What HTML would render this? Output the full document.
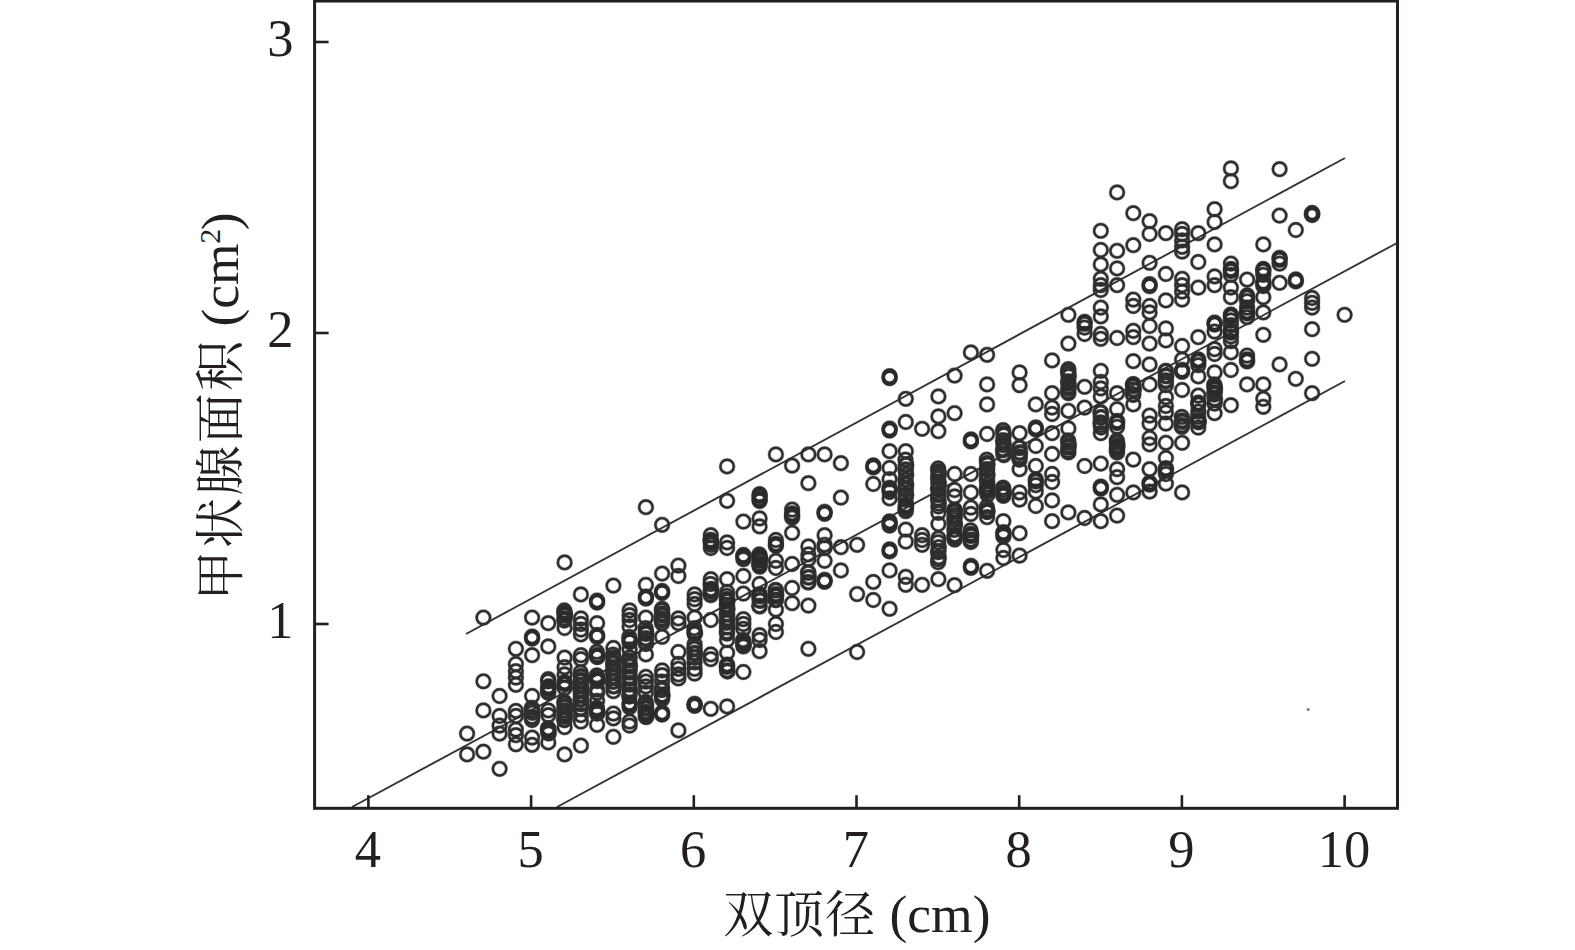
<!DOCTYPE html>
<html lang="zh-CN">
<head>
<meta charset="utf-8">
<title>甲状腺面积 vs 双顶径</title>
<style>
html,body{margin:0;padding:0;background:#fff;}
body{width:1575px;height:950px;overflow:hidden;}
svg{display:block;}
text{font-family:"Liberation Serif","Noto Serif CJK SC",serif;fill:#231f20;}
.num{font-size:52.5px;}
.zh{font-size:50px;}
.la{font-size:53.5px;}
</style>
</head>
<body>
<svg width="1575" height="950" viewBox="0 0 1575 950">
<rect x="0" y="0" width="1575" height="950" fill="#fff"/>
<g fill="none" stroke="#333" stroke-width="1.9" id="reg">
<line x1="466" y1="634" x2="1345" y2="158"/>
<line x1="352" y1="807" x2="1397" y2="243"/>
<line x1="557" y1="807" x2="1345" y2="381"/>
</g>
<g fill="none" stroke="#2c2c2c" stroke-width="3.6" stroke-opacity="0.35" id="halo">
<circle cx="467.1" cy="733.6" r="6.7"/><circle cx="467.1" cy="754.4" r="6.7"/><circle cx="483.4" cy="681.3" r="6.7"/><circle cx="483.4" cy="710.4" r="6.7"/><circle cx="483.4" cy="751.7" r="6.7"/><circle cx="499.6" cy="696.0" r="6.7"/><circle cx="499.6" cy="716.0" r="6.7"/><circle cx="499.6" cy="725.6" r="6.7"/><circle cx="499.6" cy="733.6" r="6.7"/><circle cx="499.6" cy="768.8" r="6.7"/><circle cx="515.9" cy="648.8" r="6.7"/><circle cx="515.9" cy="664.0" r="6.7"/><circle cx="515.9" cy="671.2" r="6.7"/><circle cx="515.9" cy="677.6" r="6.7"/><circle cx="515.9" cy="684.8" r="6.7"/><circle cx="515.9" cy="710.9" r="6.7"/><circle cx="515.9" cy="716.0" r="6.7"/><circle cx="515.9" cy="729.6" r="6.7"/><circle cx="515.9" cy="735.2" r="6.7"/><circle cx="515.9" cy="744.3" r="6.7"/><circle cx="532.1" cy="655.2" r="6.7"/><circle cx="532.1" cy="696.0" r="6.7"/><circle cx="532.1" cy="710.4" r="6.7"/><circle cx="532.1" cy="716.8" r="6.7"/><circle cx="532.1" cy="720.0" r="6.7"/><circle cx="532.1" cy="737.6" r="6.7"/><circle cx="532.1" cy="744.8" r="6.7"/><circle cx="548.3" cy="646.4" r="6.7"/><circle cx="548.3" cy="679.2" r="6.7"/><circle cx="548.3" cy="687.0" r="6.7"/><circle cx="548.3" cy="689.0" r="6.7"/><circle cx="548.3" cy="692.8" r="6.7"/><circle cx="548.3" cy="710.4" r="6.7"/><circle cx="548.3" cy="715.2" r="6.7"/><circle cx="548.3" cy="728.6" r="6.7"/><circle cx="548.3" cy="730.6" r="6.7"/><circle cx="548.3" cy="732.8" r="6.7"/><circle cx="548.3" cy="742.4" r="6.7"/><circle cx="564.6" cy="657.6" r="6.7"/><circle cx="564.6" cy="667.2" r="6.7"/><circle cx="564.6" cy="674.4" r="6.7"/><circle cx="564.6" cy="682.2" r="6.7"/><circle cx="564.6" cy="684.2" r="6.7"/><circle cx="564.6" cy="688.0" r="6.7"/><circle cx="564.6" cy="704.0" r="6.7"/><circle cx="564.6" cy="707.2" r="6.7"/><circle cx="564.6" cy="710.4" r="6.7"/><circle cx="564.6" cy="713.6" r="6.7"/><circle cx="564.6" cy="716.8" r="6.7"/><circle cx="564.6" cy="720.0" r="6.7"/><circle cx="564.6" cy="727.2" r="6.7"/><circle cx="564.6" cy="754.4" r="6.7"/><circle cx="580.9" cy="655.2" r="6.7"/><circle cx="580.9" cy="659.2" r="6.7"/><circle cx="580.9" cy="676.0" r="6.7"/><circle cx="580.9" cy="680.0" r="6.7"/><circle cx="580.9" cy="684.8" r="6.7"/><circle cx="580.9" cy="689.6" r="6.7"/><circle cx="580.9" cy="694.4" r="6.7"/><circle cx="580.9" cy="699.2" r="6.7"/><circle cx="580.9" cy="704.0" r="6.7"/><circle cx="580.9" cy="708.8" r="6.7"/><circle cx="580.9" cy="715.2" r="6.7"/><circle cx="580.9" cy="721.6" r="6.7"/><circle cx="580.9" cy="745.6" r="6.7"/><circle cx="597.1" cy="655.0" r="6.7"/><circle cx="597.1" cy="657.0" r="6.7"/><circle cx="597.1" cy="676.8" r="6.7"/><circle cx="597.1" cy="679.0" r="6.7"/><circle cx="597.1" cy="681.0" r="6.7"/><circle cx="597.1" cy="689.6" r="6.7"/><circle cx="597.1" cy="692.8" r="6.7"/><circle cx="597.1" cy="700.8" r="6.7"/><circle cx="597.1" cy="709.4" r="6.7"/><circle cx="597.1" cy="711.4" r="6.7"/><circle cx="597.1" cy="713.6" r="6.7"/><circle cx="597.1" cy="724.8" r="6.7"/><circle cx="613.4" cy="648.0" r="6.7"/><circle cx="613.4" cy="657.6" r="6.7"/><circle cx="613.4" cy="662.4" r="6.7"/><circle cx="613.4" cy="667.2" r="6.7"/><circle cx="613.4" cy="672.0" r="6.7"/><circle cx="613.4" cy="676.8" r="6.7"/><circle cx="613.4" cy="681.6" r="6.7"/><circle cx="613.4" cy="686.4" r="6.7"/><circle cx="613.4" cy="691.2" r="6.7"/><circle cx="613.4" cy="713.6" r="6.7"/><circle cx="613.4" cy="718.4" r="6.7"/><circle cx="613.4" cy="736.8" r="6.7"/><circle cx="629.6" cy="649.6" r="6.7"/><circle cx="629.6" cy="657.6" r="6.7"/><circle cx="629.6" cy="664.0" r="6.7"/><circle cx="629.6" cy="670.4" r="6.7"/><circle cx="629.6" cy="676.8" r="6.7"/><circle cx="629.6" cy="683.2" r="6.7"/><circle cx="629.6" cy="689.6" r="6.7"/><circle cx="629.6" cy="694.4" r="6.7"/><circle cx="629.6" cy="703.0" r="6.7"/><circle cx="629.6" cy="705.0" r="6.7"/><circle cx="629.6" cy="707.2" r="6.7"/><circle cx="629.6" cy="721.6" r="6.7"/><circle cx="629.6" cy="725.6" r="6.7"/><circle cx="645.9" cy="654.4" r="6.7"/><circle cx="645.9" cy="676.8" r="6.7"/><circle cx="645.9" cy="681.6" r="6.7"/><circle cx="645.9" cy="686.4" r="6.7"/><circle cx="645.9" cy="692.8" r="6.7"/><circle cx="645.9" cy="704.0" r="6.7"/><circle cx="645.9" cy="708.8" r="6.7"/><circle cx="645.9" cy="712.6" r="6.7"/><circle cx="645.9" cy="714.6" r="6.7"/><circle cx="645.9" cy="716.8" r="6.7"/><circle cx="662.1" cy="670.4" r="6.7"/><circle cx="662.1" cy="675.2" r="6.7"/><circle cx="662.1" cy="681.6" r="6.7"/><circle cx="662.1" cy="688.0" r="6.7"/><circle cx="662.1" cy="695.0" r="6.7"/><circle cx="662.1" cy="697.0" r="6.7"/><circle cx="662.1" cy="699.2" r="6.7"/><circle cx="662.1" cy="712.6" r="6.7"/><circle cx="662.1" cy="714.6" r="6.7"/><circle cx="678.4" cy="652.0" r="6.7"/><circle cx="678.4" cy="664.0" r="6.7"/><circle cx="678.4" cy="668.8" r="6.7"/><circle cx="678.4" cy="674.4" r="6.7"/><circle cx="678.4" cy="678.4" r="6.7"/><circle cx="678.4" cy="730.4" r="6.7"/><circle cx="694.6" cy="648.0" r="6.7"/><circle cx="694.6" cy="652.8" r="6.7"/><circle cx="694.6" cy="657.6" r="6.7"/><circle cx="694.6" cy="662.4" r="6.7"/><circle cx="694.6" cy="668.8" r="6.7"/><circle cx="694.6" cy="673.6" r="6.7"/><circle cx="694.6" cy="703.8" r="6.7"/><circle cx="694.6" cy="704.8" r="6.7"/><circle cx="694.6" cy="705.8" r="6.7"/><circle cx="483.4" cy="617.6" r="6.7"/><circle cx="532.1" cy="617.6" r="6.7"/><circle cx="532.1" cy="636.6" r="6.7"/><circle cx="532.1" cy="638.6" r="6.7"/><circle cx="548.3" cy="623.2" r="6.7"/><circle cx="564.6" cy="562.4" r="6.7"/><circle cx="564.6" cy="612.6" r="6.7"/><circle cx="564.6" cy="614.6" r="6.7"/><circle cx="564.6" cy="618.4" r="6.7"/><circle cx="564.6" cy="628.0" r="6.7"/><circle cx="580.9" cy="594.4" r="6.7"/><circle cx="580.9" cy="618.4" r="6.7"/><circle cx="580.9" cy="624.0" r="6.7"/><circle cx="580.9" cy="629.6" r="6.7"/><circle cx="580.9" cy="634.4" r="6.7"/><circle cx="597.1" cy="600.6" r="6.7"/><circle cx="597.1" cy="602.6" r="6.7"/><circle cx="597.1" cy="623.2" r="6.7"/><circle cx="597.1" cy="635.0" r="6.7"/><circle cx="597.1" cy="637.0" r="6.7"/><circle cx="613.4" cy="585.6" r="6.7"/><circle cx="629.6" cy="610.4" r="6.7"/><circle cx="629.6" cy="615.2" r="6.7"/><circle cx="629.6" cy="620.0" r="6.7"/><circle cx="629.6" cy="626.4" r="6.7"/><circle cx="629.6" cy="639.8" r="6.7"/><circle cx="629.6" cy="641.8" r="6.7"/><circle cx="645.9" cy="507.2" r="6.7"/><circle cx="645.9" cy="584.8" r="6.7"/><circle cx="645.9" cy="596.6" r="6.7"/><circle cx="645.9" cy="598.6" r="6.7"/><circle cx="645.9" cy="617.6" r="6.7"/><circle cx="645.9" cy="631.8" r="6.7"/><circle cx="645.9" cy="633.8" r="6.7"/><circle cx="645.9" cy="639.2" r="6.7"/><circle cx="645.9" cy="644.0" r="6.7"/><circle cx="662.1" cy="524.8" r="6.7"/><circle cx="662.1" cy="573.6" r="6.7"/><circle cx="662.1" cy="591.0" r="6.7"/><circle cx="662.1" cy="593.0" r="6.7"/><circle cx="662.1" cy="608.8" r="6.7"/><circle cx="662.1" cy="613.6" r="6.7"/><circle cx="662.1" cy="618.4" r="6.7"/><circle cx="662.1" cy="623.2" r="6.7"/><circle cx="662.1" cy="636.8" r="6.7"/><circle cx="678.4" cy="565.6" r="6.7"/><circle cx="678.4" cy="576.0" r="6.7"/><circle cx="678.4" cy="618.4" r="6.7"/><circle cx="678.4" cy="623.2" r="6.7"/><circle cx="694.6" cy="594.4" r="6.7"/><circle cx="694.6" cy="599.2" r="6.7"/><circle cx="694.6" cy="604.0" r="6.7"/><circle cx="694.6" cy="617.6" r="6.7"/><circle cx="694.6" cy="631.8" r="6.7"/><circle cx="694.6" cy="633.8" r="6.7"/><circle cx="694.6" cy="644.0" r="6.7"/><circle cx="710.8" cy="579.2" r="6.7"/><circle cx="710.8" cy="589.4" r="6.7"/><circle cx="710.8" cy="591.4" r="6.7"/><circle cx="710.8" cy="595.2" r="6.7"/><circle cx="710.8" cy="620.0" r="6.7"/><circle cx="710.8" cy="654.4" r="6.7"/><circle cx="710.8" cy="659.2" r="6.7"/><circle cx="710.8" cy="708.8" r="6.7"/><circle cx="727.1" cy="579.2" r="6.7"/><circle cx="727.1" cy="592.0" r="6.7"/><circle cx="727.1" cy="599.0" r="6.7"/><circle cx="727.1" cy="601.0" r="6.7"/><circle cx="727.1" cy="608.0" r="6.7"/><circle cx="727.1" cy="614.4" r="6.7"/><circle cx="727.1" cy="620.8" r="6.7"/><circle cx="727.1" cy="627.2" r="6.7"/><circle cx="727.1" cy="633.6" r="6.7"/><circle cx="727.1" cy="640.0" r="6.7"/><circle cx="727.1" cy="652.8" r="6.7"/><circle cx="727.1" cy="664.6" r="6.7"/><circle cx="727.1" cy="666.6" r="6.7"/><circle cx="727.1" cy="670.4" r="6.7"/><circle cx="727.1" cy="706.4" r="6.7"/><circle cx="743.4" cy="576.0" r="6.7"/><circle cx="743.4" cy="593.6" r="6.7"/><circle cx="743.4" cy="619.2" r="6.7"/><circle cx="743.4" cy="624.0" r="6.7"/><circle cx="743.4" cy="628.8" r="6.7"/><circle cx="743.4" cy="642.2" r="6.7"/><circle cx="743.4" cy="644.2" r="6.7"/><circle cx="743.4" cy="646.4" r="6.7"/><circle cx="743.4" cy="672.0" r="6.7"/><circle cx="759.6" cy="584.0" r="6.7"/><circle cx="759.6" cy="594.2" r="6.7"/><circle cx="759.6" cy="596.2" r="6.7"/><circle cx="759.6" cy="600.0" r="6.7"/><circle cx="759.6" cy="606.4" r="6.7"/><circle cx="759.6" cy="635.2" r="6.7"/><circle cx="759.6" cy="640.0" r="6.7"/><circle cx="759.6" cy="651.2" r="6.7"/><circle cx="775.9" cy="568.0" r="6.7"/><circle cx="775.9" cy="590.4" r="6.7"/><circle cx="775.9" cy="594.2" r="6.7"/><circle cx="775.9" cy="596.2" r="6.7"/><circle cx="775.9" cy="600.0" r="6.7"/><circle cx="775.9" cy="609.6" r="6.7"/><circle cx="775.9" cy="624.0" r="6.7"/><circle cx="775.9" cy="632.0" r="6.7"/><circle cx="792.1" cy="588.0" r="6.7"/><circle cx="792.1" cy="603.2" r="6.7"/><circle cx="808.4" cy="572.8" r="6.7"/><circle cx="808.4" cy="577.6" r="6.7"/><circle cx="808.4" cy="582.4" r="6.7"/><circle cx="808.4" cy="605.6" r="6.7"/><circle cx="808.4" cy="648.8" r="6.7"/><circle cx="824.6" cy="579.8" r="6.7"/><circle cx="824.6" cy="581.8" r="6.7"/><circle cx="840.9" cy="570.4" r="6.7"/><circle cx="857.1" cy="594.1" r="6.7"/><circle cx="857.1" cy="652.0" r="6.7"/><circle cx="873.3" cy="581.9" r="6.7"/><circle cx="873.3" cy="600.0" r="6.7"/><circle cx="889.6" cy="570.4" r="6.7"/><circle cx="889.6" cy="608.8" r="6.7"/><circle cx="905.8" cy="576.8" r="6.7"/><circle cx="905.8" cy="584.8" r="6.7"/><circle cx="922.1" cy="584.8" r="6.7"/><circle cx="938.4" cy="579.2" r="6.7"/><circle cx="710.8" cy="535.2" r="6.7"/><circle cx="710.8" cy="540.6" r="6.7"/><circle cx="710.8" cy="542.6" r="6.7"/><circle cx="710.8" cy="548.0" r="6.7"/><circle cx="727.1" cy="466.4" r="6.7"/><circle cx="727.1" cy="500.8" r="6.7"/><circle cx="727.1" cy="542.4" r="6.7"/><circle cx="727.1" cy="548.0" r="6.7"/><circle cx="743.4" cy="521.6" r="6.7"/><circle cx="743.4" cy="555.0" r="6.7"/><circle cx="743.4" cy="557.0" r="6.7"/><circle cx="743.4" cy="559.2" r="6.7"/><circle cx="759.6" cy="494.2" r="6.7"/><circle cx="759.6" cy="496.2" r="6.7"/><circle cx="759.6" cy="499.0" r="6.7"/><circle cx="759.6" cy="501.0" r="6.7"/><circle cx="759.6" cy="518.4" r="6.7"/><circle cx="759.6" cy="526.4" r="6.7"/><circle cx="759.6" cy="555.8" r="6.7"/><circle cx="759.6" cy="557.8" r="6.7"/><circle cx="759.6" cy="560.8" r="6.7"/><circle cx="759.6" cy="564.6" r="6.7"/><circle cx="759.6" cy="566.6" r="6.7"/><circle cx="775.9" cy="454.4" r="6.7"/><circle cx="775.9" cy="540.0" r="6.7"/><circle cx="775.9" cy="543.8" r="6.7"/><circle cx="775.9" cy="545.8" r="6.7"/><circle cx="775.9" cy="560.8" r="6.7"/><circle cx="792.1" cy="465.6" r="6.7"/><circle cx="792.1" cy="509.6" r="6.7"/><circle cx="792.1" cy="513.4" r="6.7"/><circle cx="792.1" cy="515.4" r="6.7"/><circle cx="792.1" cy="517.6" r="6.7"/><circle cx="792.1" cy="532.8" r="6.7"/><circle cx="792.1" cy="564.0" r="6.7"/><circle cx="808.4" cy="454.4" r="6.7"/><circle cx="808.4" cy="483.2" r="6.7"/><circle cx="808.4" cy="546.4" r="6.7"/><circle cx="808.4" cy="554.4" r="6.7"/><circle cx="808.4" cy="559.2" r="6.7"/><circle cx="824.6" cy="454.4" r="6.7"/><circle cx="824.6" cy="511.8" r="6.7"/><circle cx="824.6" cy="513.8" r="6.7"/><circle cx="824.6" cy="535.2" r="6.7"/><circle cx="824.6" cy="544.8" r="6.7"/><circle cx="824.6" cy="548.0" r="6.7"/><circle cx="824.6" cy="560.8" r="6.7"/><circle cx="840.9" cy="463.2" r="6.7"/><circle cx="840.9" cy="497.6" r="6.7"/><circle cx="840.9" cy="547.2" r="6.7"/><circle cx="857.1" cy="544.8" r="6.7"/><circle cx="873.3" cy="465.4" r="6.7"/><circle cx="873.3" cy="467.4" r="6.7"/><circle cx="873.3" cy="484.0" r="6.7"/><circle cx="889.6" cy="428.6" r="6.7"/><circle cx="889.6" cy="430.6" r="6.7"/><circle cx="889.6" cy="451.2" r="6.7"/><circle cx="889.6" cy="468.0" r="6.7"/><circle cx="889.6" cy="479.2" r="6.7"/><circle cx="889.6" cy="487.8" r="6.7"/><circle cx="889.6" cy="489.8" r="6.7"/><circle cx="889.6" cy="492.0" r="6.7"/><circle cx="889.6" cy="498.4" r="6.7"/><circle cx="889.6" cy="521.4" r="6.7"/><circle cx="889.6" cy="523.4" r="6.7"/><circle cx="889.6" cy="525.6" r="6.7"/><circle cx="889.6" cy="549.4" r="6.7"/><circle cx="889.6" cy="551.4" r="6.7"/><circle cx="905.8" cy="451.2" r="6.7"/><circle cx="905.8" cy="464.8" r="6.7"/><circle cx="905.8" cy="469.6" r="6.7"/><circle cx="905.8" cy="484.0" r="6.7"/><circle cx="905.8" cy="488.8" r="6.7"/><circle cx="905.8" cy="495.2" r="6.7"/><circle cx="905.8" cy="505.4" r="6.7"/><circle cx="905.8" cy="507.4" r="6.7"/><circle cx="905.8" cy="511.2" r="6.7"/><circle cx="905.8" cy="529.6" r="6.7"/><circle cx="905.8" cy="541.6" r="6.7"/><circle cx="922.1" cy="428.8" r="6.7"/><circle cx="922.1" cy="535.2" r="6.7"/><circle cx="922.1" cy="540.0" r="6.7"/><circle cx="922.1" cy="544.8" r="6.7"/><circle cx="938.4" cy="431.2" r="6.7"/><circle cx="938.4" cy="471.2" r="6.7"/><circle cx="938.4" cy="476.0" r="6.7"/><circle cx="938.4" cy="482.4" r="6.7"/><circle cx="938.4" cy="488.8" r="6.7"/><circle cx="938.4" cy="495.2" r="6.7"/><circle cx="938.4" cy="500.0" r="6.7"/><circle cx="938.4" cy="506.4" r="6.7"/><circle cx="938.4" cy="512.8" r="6.7"/><circle cx="938.4" cy="524.0" r="6.7"/><circle cx="938.4" cy="538.4" r="6.7"/><circle cx="938.4" cy="551.2" r="6.7"/><circle cx="938.4" cy="559.2" r="6.7"/><circle cx="889.6" cy="376.2" r="6.7"/><circle cx="889.6" cy="378.2" r="6.7"/><circle cx="905.8" cy="398.8" r="6.7"/><circle cx="905.8" cy="422.0" r="6.7"/><circle cx="938.4" cy="396.4" r="6.7"/><circle cx="938.4" cy="416.4" r="6.7"/><circle cx="954.6" cy="474.0" r="6.7"/><circle cx="954.6" cy="490.0" r="6.7"/><circle cx="954.6" cy="496.4" r="6.7"/><circle cx="954.6" cy="509.8" r="6.7"/><circle cx="954.6" cy="511.8" r="6.7"/><circle cx="954.6" cy="517.2" r="6.7"/><circle cx="954.6" cy="523.6" r="6.7"/><circle cx="954.6" cy="535.4" r="6.7"/><circle cx="954.6" cy="537.4" r="6.7"/><circle cx="954.6" cy="539.6" r="6.7"/><circle cx="954.6" cy="585.2" r="6.7"/><circle cx="970.9" cy="474.0" r="6.7"/><circle cx="970.9" cy="492.4" r="6.7"/><circle cx="970.9" cy="507.6" r="6.7"/><circle cx="970.9" cy="514.0" r="6.7"/><circle cx="970.9" cy="533.8" r="6.7"/><circle cx="970.9" cy="535.8" r="6.7"/><circle cx="970.9" cy="539.6" r="6.7"/><circle cx="970.9" cy="542.0" r="6.7"/><circle cx="970.9" cy="565.8" r="6.7"/><circle cx="970.9" cy="567.8" r="6.7"/><circle cx="987.1" cy="462.8" r="6.7"/><circle cx="987.1" cy="469.2" r="6.7"/><circle cx="987.1" cy="475.6" r="6.7"/><circle cx="987.1" cy="480.4" r="6.7"/><circle cx="987.1" cy="487.4" r="6.7"/><circle cx="987.1" cy="489.4" r="6.7"/><circle cx="987.1" cy="491.6" r="6.7"/><circle cx="987.1" cy="509.8" r="6.7"/><circle cx="987.1" cy="511.8" r="6.7"/><circle cx="987.1" cy="517.2" r="6.7"/><circle cx="987.1" cy="570.8" r="6.7"/><circle cx="1003.4" cy="490.0" r="6.7"/><circle cx="1003.4" cy="493.8" r="6.7"/><circle cx="1003.4" cy="495.8" r="6.7"/><circle cx="1003.4" cy="521.2" r="6.7"/><circle cx="1003.4" cy="532.2" r="6.7"/><circle cx="1003.4" cy="534.2" r="6.7"/><circle cx="1003.4" cy="536.4" r="6.7"/><circle cx="1003.4" cy="550.0" r="6.7"/><circle cx="1003.4" cy="558.0" r="6.7"/><circle cx="1019.6" cy="456.4" r="6.7"/><circle cx="1019.6" cy="459.6" r="6.7"/><circle cx="1019.6" cy="469.2" r="6.7"/><circle cx="1019.6" cy="492.4" r="6.7"/><circle cx="1019.6" cy="499.6" r="6.7"/><circle cx="1019.6" cy="533.2" r="6.7"/><circle cx="1019.6" cy="555.6" r="6.7"/><circle cx="1035.8" cy="466.0" r="6.7"/><circle cx="1035.8" cy="479.4" r="6.7"/><circle cx="1035.8" cy="481.4" r="6.7"/><circle cx="1035.8" cy="485.2" r="6.7"/><circle cx="1035.8" cy="491.6" r="6.7"/><circle cx="1035.8" cy="506.0" r="6.7"/><circle cx="1052.1" cy="474.0" r="6.7"/><circle cx="1052.1" cy="482.0" r="6.7"/><circle cx="1052.1" cy="500.4" r="6.7"/><circle cx="1052.1" cy="521.2" r="6.7"/><circle cx="1068.4" cy="512.4" r="6.7"/><circle cx="1084.6" cy="466.0" r="6.7"/><circle cx="1084.6" cy="518.0" r="6.7"/><circle cx="1100.8" cy="463.6" r="6.7"/><circle cx="1100.8" cy="486.6" r="6.7"/><circle cx="1100.8" cy="488.6" r="6.7"/><circle cx="1100.8" cy="504.4" r="6.7"/><circle cx="1100.8" cy="521.2" r="6.7"/><circle cx="1117.1" cy="469.2" r="6.7"/><circle cx="1117.1" cy="477.2" r="6.7"/><circle cx="1117.1" cy="494.8" r="6.7"/><circle cx="1117.1" cy="515.6" r="6.7"/><circle cx="1133.3" cy="459.6" r="6.7"/><circle cx="1133.3" cy="492.4" r="6.7"/><circle cx="1149.6" cy="469.2" r="6.7"/><circle cx="1149.6" cy="482.6" r="6.7"/><circle cx="1149.6" cy="484.6" r="6.7"/><circle cx="1149.6" cy="491.6" r="6.7"/><circle cx="1165.9" cy="458.0" r="6.7"/><circle cx="1165.9" cy="468.2" r="6.7"/><circle cx="1165.9" cy="470.2" r="6.7"/><circle cx="1165.9" cy="474.0" r="6.7"/><circle cx="1165.9" cy="483.6" r="6.7"/><circle cx="1182.1" cy="492.4" r="6.7"/><circle cx="954.6" cy="375.6" r="6.7"/><circle cx="954.6" cy="413.2" r="6.7"/><circle cx="970.9" cy="352.4" r="6.7"/><circle cx="970.9" cy="439.4" r="6.7"/><circle cx="970.9" cy="441.4" r="6.7"/><circle cx="987.1" cy="354.8" r="6.7"/><circle cx="987.1" cy="384.4" r="6.7"/><circle cx="987.1" cy="404.4" r="6.7"/><circle cx="987.1" cy="434.0" r="6.7"/><circle cx="1003.4" cy="433.2" r="6.7"/><circle cx="1003.4" cy="442.8" r="6.7"/><circle cx="1003.4" cy="449.2" r="6.7"/><circle cx="1003.4" cy="454.0" r="6.7"/><circle cx="1019.6" cy="372.4" r="6.7"/><circle cx="1019.6" cy="385.2" r="6.7"/><circle cx="1019.6" cy="433.2" r="6.7"/><circle cx="1019.6" cy="447.6" r="6.7"/><circle cx="1019.6" cy="452.4" r="6.7"/><circle cx="1035.8" cy="404.4" r="6.7"/><circle cx="1035.8" cy="427.4" r="6.7"/><circle cx="1035.8" cy="429.4" r="6.7"/><circle cx="1035.8" cy="446.0" r="6.7"/><circle cx="1052.1" cy="360.4" r="6.7"/><circle cx="1052.1" cy="393.2" r="6.7"/><circle cx="1052.1" cy="407.6" r="6.7"/><circle cx="1052.1" cy="414.0" r="6.7"/><circle cx="1052.1" cy="433.2" r="6.7"/><circle cx="1052.1" cy="454.0" r="6.7"/><circle cx="1068.4" cy="343.6" r="6.7"/><circle cx="1068.4" cy="369.2" r="6.7"/><circle cx="1068.4" cy="374.0" r="6.7"/><circle cx="1068.4" cy="383.6" r="6.7"/><circle cx="1068.4" cy="388.4" r="6.7"/><circle cx="1068.4" cy="393.2" r="6.7"/><circle cx="1068.4" cy="410.8" r="6.7"/><circle cx="1068.4" cy="428.4" r="6.7"/><circle cx="1068.4" cy="442.8" r="6.7"/><circle cx="1068.4" cy="447.6" r="6.7"/><circle cx="1068.4" cy="452.4" r="6.7"/><circle cx="1084.6" cy="321.8" r="6.7"/><circle cx="1084.6" cy="323.8" r="6.7"/><circle cx="1084.6" cy="327.6" r="6.7"/><circle cx="1084.6" cy="334.0" r="6.7"/><circle cx="1084.6" cy="386.8" r="6.7"/><circle cx="1084.6" cy="407.6" r="6.7"/><circle cx="1100.8" cy="316.4" r="6.7"/><circle cx="1100.8" cy="334.0" r="6.7"/><circle cx="1100.8" cy="338.8" r="6.7"/><circle cx="1100.8" cy="370.8" r="6.7"/><circle cx="1100.8" cy="382.0" r="6.7"/><circle cx="1100.8" cy="388.4" r="6.7"/><circle cx="1100.8" cy="396.4" r="6.7"/><circle cx="1100.8" cy="412.4" r="6.7"/><circle cx="1100.8" cy="417.2" r="6.7"/><circle cx="1100.8" cy="425.2" r="6.7"/><circle cx="1100.8" cy="433.2" r="6.7"/><circle cx="1117.1" cy="338.0" r="6.7"/><circle cx="1117.1" cy="393.2" r="6.7"/><circle cx="1117.1" cy="409.2" r="6.7"/><circle cx="1117.1" cy="421.0" r="6.7"/><circle cx="1117.1" cy="423.0" r="6.7"/><circle cx="1117.1" cy="426.8" r="6.7"/><circle cx="1117.1" cy="442.8" r="6.7"/><circle cx="1117.1" cy="446.6" r="6.7"/><circle cx="1117.1" cy="448.6" r="6.7"/><circle cx="1117.1" cy="452.4" r="6.7"/><circle cx="1133.3" cy="330.8" r="6.7"/><circle cx="1133.3" cy="337.2" r="6.7"/><circle cx="1133.3" cy="361.2" r="6.7"/><circle cx="1133.3" cy="384.2" r="6.7"/><circle cx="1133.3" cy="386.2" r="6.7"/><circle cx="1133.3" cy="390.0" r="6.7"/><circle cx="1133.3" cy="394.8" r="6.7"/><circle cx="1133.3" cy="404.4" r="6.7"/><circle cx="1149.6" cy="326.0" r="6.7"/><circle cx="1149.6" cy="343.6" r="6.7"/><circle cx="1149.6" cy="364.4" r="6.7"/><circle cx="1149.6" cy="384.4" r="6.7"/><circle cx="1149.6" cy="415.6" r="6.7"/><circle cx="1149.6" cy="423.6" r="6.7"/><circle cx="1149.6" cy="438.0" r="6.7"/><circle cx="1149.6" cy="444.4" r="6.7"/><circle cx="1165.9" cy="328.4" r="6.7"/><circle cx="1165.9" cy="340.4" r="6.7"/><circle cx="1165.9" cy="370.8" r="6.7"/><circle cx="1165.9" cy="375.6" r="6.7"/><circle cx="1165.9" cy="380.4" r="6.7"/><circle cx="1165.9" cy="385.2" r="6.7"/><circle cx="1165.9" cy="397.2" r="6.7"/><circle cx="1165.9" cy="406.0" r="6.7"/><circle cx="1165.9" cy="412.4" r="6.7"/><circle cx="1165.9" cy="423.6" r="6.7"/><circle cx="1165.9" cy="442.8" r="6.7"/><circle cx="1182.1" cy="346.0" r="6.7"/><circle cx="1182.1" cy="359.6" r="6.7"/><circle cx="1182.1" cy="369.8" r="6.7"/><circle cx="1182.1" cy="371.8" r="6.7"/><circle cx="1182.1" cy="390.0" r="6.7"/><circle cx="1182.1" cy="420.4" r="6.7"/><circle cx="1182.1" cy="425.2" r="6.7"/><circle cx="1182.1" cy="442.8" r="6.7"/><circle cx="1068.4" cy="314.8" r="6.7"/><circle cx="1100.8" cy="230.8" r="6.7"/><circle cx="1100.8" cy="250.0" r="6.7"/><circle cx="1100.8" cy="264.4" r="6.7"/><circle cx="1100.8" cy="278.8" r="6.7"/><circle cx="1100.8" cy="285.2" r="6.7"/><circle cx="1100.8" cy="290.0" r="6.7"/><circle cx="1100.8" cy="307.6" r="6.7"/><circle cx="1117.1" cy="192.4" r="6.7"/><circle cx="1117.1" cy="250.8" r="6.7"/><circle cx="1117.1" cy="268.4" r="6.7"/><circle cx="1117.1" cy="285.2" r="6.7"/><circle cx="1133.3" cy="213.2" r="6.7"/><circle cx="1133.3" cy="245.2" r="6.7"/><circle cx="1133.3" cy="299.6" r="6.7"/><circle cx="1133.3" cy="306.0" r="6.7"/><circle cx="1149.6" cy="221.2" r="6.7"/><circle cx="1149.6" cy="234.0" r="6.7"/><circle cx="1149.6" cy="262.8" r="6.7"/><circle cx="1149.6" cy="284.2" r="6.7"/><circle cx="1149.6" cy="286.2" r="6.7"/><circle cx="1149.6" cy="306.0" r="6.7"/><circle cx="1149.6" cy="312.4" r="6.7"/><circle cx="1165.9" cy="233.2" r="6.7"/><circle cx="1165.9" cy="274.0" r="6.7"/><circle cx="1165.9" cy="300.4" r="6.7"/><circle cx="1182.1" cy="229.2" r="6.7"/><circle cx="1182.1" cy="234.0" r="6.7"/><circle cx="1182.1" cy="240.4" r="6.7"/><circle cx="1182.1" cy="246.8" r="6.7"/><circle cx="1182.1" cy="251.6" r="6.7"/><circle cx="1182.1" cy="278.8" r="6.7"/><circle cx="1182.1" cy="285.2" r="6.7"/><circle cx="1182.1" cy="291.6" r="6.7"/><circle cx="1182.1" cy="299.6" r="6.7"/><circle cx="1198.3" cy="233.2" r="6.7"/><circle cx="1198.3" cy="262.0" r="6.7"/><circle cx="1198.3" cy="287.6" r="6.7"/><circle cx="1214.6" cy="209.2" r="6.7"/><circle cx="1214.6" cy="222.0" r="6.7"/><circle cx="1214.6" cy="244.4" r="6.7"/><circle cx="1214.6" cy="276.4" r="6.7"/><circle cx="1214.6" cy="285.2" r="6.7"/><circle cx="1230.9" cy="168.4" r="6.7"/><circle cx="1230.9" cy="181.2" r="6.7"/><circle cx="1230.9" cy="263.6" r="6.7"/><circle cx="1230.9" cy="269.0" r="6.7"/><circle cx="1230.9" cy="271.0" r="6.7"/><circle cx="1230.9" cy="274.8" r="6.7"/><circle cx="1230.9" cy="287.6" r="6.7"/><circle cx="1247.1" cy="279.6" r="6.7"/><circle cx="1263.3" cy="244.4" r="6.7"/><circle cx="1263.3" cy="269.0" r="6.7"/><circle cx="1263.3" cy="271.0" r="6.7"/><circle cx="1263.3" cy="274.8" r="6.7"/><circle cx="1263.3" cy="281.8" r="6.7"/><circle cx="1263.3" cy="283.8" r="6.7"/><circle cx="1263.3" cy="286.0" r="6.7"/><circle cx="1279.6" cy="169.2" r="6.7"/><circle cx="1279.6" cy="215.6" r="6.7"/><circle cx="1279.6" cy="257.8" r="6.7"/><circle cx="1279.6" cy="259.8" r="6.7"/><circle cx="1279.6" cy="263.6" r="6.7"/><circle cx="1279.6" cy="282.8" r="6.7"/><circle cx="1295.8" cy="230.0" r="6.7"/><circle cx="1295.8" cy="279.4" r="6.7"/><circle cx="1295.8" cy="281.4" r="6.7"/><circle cx="1312.1" cy="213.0" r="6.7"/><circle cx="1312.1" cy="214.0" r="6.7"/><circle cx="1312.1" cy="215.0" r="6.7"/><circle cx="1198.3" cy="337.2" r="6.7"/><circle cx="1198.3" cy="359.4" r="6.7"/><circle cx="1198.3" cy="361.4" r="6.7"/><circle cx="1198.3" cy="365.2" r="6.7"/><circle cx="1198.3" cy="376.4" r="6.7"/><circle cx="1198.3" cy="395.6" r="6.7"/><circle cx="1198.3" cy="402.6" r="6.7"/><circle cx="1198.3" cy="404.6" r="6.7"/><circle cx="1198.3" cy="411.6" r="6.7"/><circle cx="1198.3" cy="420.2" r="6.7"/><circle cx="1198.3" cy="422.2" r="6.7"/><circle cx="1198.3" cy="427.6" r="6.7"/><circle cx="1214.6" cy="322.6" r="6.7"/><circle cx="1214.6" cy="324.6" r="6.7"/><circle cx="1214.6" cy="331.6" r="6.7"/><circle cx="1214.6" cy="349.2" r="6.7"/><circle cx="1214.6" cy="354.0" r="6.7"/><circle cx="1214.6" cy="372.4" r="6.7"/><circle cx="1214.6" cy="386.6" r="6.7"/><circle cx="1214.6" cy="388.6" r="6.7"/><circle cx="1214.6" cy="392.4" r="6.7"/><circle cx="1214.6" cy="398.8" r="6.7"/><circle cx="1214.6" cy="403.6" r="6.7"/><circle cx="1214.6" cy="413.2" r="6.7"/><circle cx="1230.9" cy="297.2" r="6.7"/><circle cx="1230.9" cy="314.6" r="6.7"/><circle cx="1230.9" cy="316.6" r="6.7"/><circle cx="1230.9" cy="320.4" r="6.7"/><circle cx="1230.9" cy="325.2" r="6.7"/><circle cx="1230.9" cy="330.6" r="6.7"/><circle cx="1230.9" cy="332.6" r="6.7"/><circle cx="1230.9" cy="336.4" r="6.7"/><circle cx="1230.9" cy="341.2" r="6.7"/><circle cx="1230.9" cy="352.4" r="6.7"/><circle cx="1230.9" cy="370.0" r="6.7"/><circle cx="1230.9" cy="405.2" r="6.7"/><circle cx="1247.1" cy="295.4" r="6.7"/><circle cx="1247.1" cy="297.4" r="6.7"/><circle cx="1247.1" cy="301.2" r="6.7"/><circle cx="1247.1" cy="307.6" r="6.7"/><circle cx="1247.1" cy="311.4" r="6.7"/><circle cx="1247.1" cy="313.4" r="6.7"/><circle cx="1247.1" cy="317.2" r="6.7"/><circle cx="1247.1" cy="355.6" r="6.7"/><circle cx="1247.1" cy="359.4" r="6.7"/><circle cx="1247.1" cy="361.4" r="6.7"/><circle cx="1247.1" cy="384.4" r="6.7"/><circle cx="1263.3" cy="297.2" r="6.7"/><circle cx="1263.3" cy="312.4" r="6.7"/><circle cx="1263.3" cy="334.8" r="6.7"/><circle cx="1263.3" cy="384.4" r="6.7"/><circle cx="1263.3" cy="398.8" r="6.7"/><circle cx="1263.3" cy="406.8" r="6.7"/><circle cx="1279.6" cy="364.4" r="6.7"/><circle cx="1295.8" cy="378.8" r="6.7"/><circle cx="1312.1" cy="298.0" r="6.7"/><circle cx="1312.1" cy="302.8" r="6.7"/><circle cx="1312.1" cy="307.6" r="6.7"/><circle cx="1312.1" cy="329.2" r="6.7"/><circle cx="1312.1" cy="358.8" r="6.7"/><circle cx="1312.1" cy="393.2" r="6.7"/><circle cx="1344.6" cy="314.8" r="6.7"/><circle cx="531.8" cy="707.8" r="6.7"/><circle cx="532.5" cy="712.8" r="6.7"/><circle cx="531.8" cy="717.8" r="6.7"/><circle cx="548.0" cy="681.3" r="6.7"/><circle cx="548.7" cy="686.3" r="6.7"/><circle cx="548.0" cy="691.3" r="6.7"/><circle cx="548.0" cy="728.4" r="6.7"/><circle cx="548.7" cy="733.4" r="6.7"/><circle cx="564.3" cy="610.5" r="6.7"/><circle cx="565.0" cy="615.5" r="6.7"/><circle cx="564.3" cy="620.5" r="6.7"/><circle cx="564.3" cy="701.9" r="6.7"/><circle cx="565.0" cy="706.4" r="6.7"/><circle cx="564.3" cy="710.9" r="6.7"/><circle cx="565.0" cy="715.4" r="6.7"/><circle cx="564.3" cy="719.9" r="6.7"/><circle cx="580.6" cy="672.4" r="6.7"/><circle cx="581.2" cy="676.9" r="6.7"/><circle cx="580.6" cy="681.4" r="6.7"/><circle cx="581.2" cy="685.9" r="6.7"/><circle cx="580.6" cy="690.4" r="6.7"/><circle cx="581.2" cy="694.9" r="6.7"/><circle cx="580.6" cy="699.4" r="6.7"/><circle cx="581.2" cy="703.9" r="6.7"/><circle cx="580.6" cy="708.4" r="6.7"/><circle cx="596.8" cy="651.8" r="6.7"/><circle cx="597.5" cy="656.8" r="6.7"/><circle cx="596.8" cy="675.4" r="6.7"/><circle cx="597.5" cy="680.4" r="6.7"/><circle cx="596.8" cy="707.8" r="6.7"/><circle cx="597.5" cy="712.8" r="6.7"/><circle cx="613.1" cy="654.7" r="6.7"/><circle cx="613.8" cy="659.2" r="6.7"/><circle cx="613.1" cy="663.7" r="6.7"/><circle cx="613.8" cy="668.2" r="6.7"/><circle cx="613.1" cy="672.7" r="6.7"/><circle cx="613.8" cy="677.2" r="6.7"/><circle cx="613.1" cy="681.7" r="6.7"/><circle cx="613.8" cy="686.2" r="6.7"/><circle cx="629.3" cy="637.0" r="6.7"/><circle cx="630.0" cy="642.0" r="6.7"/><circle cx="629.3" cy="660.6" r="6.7"/><circle cx="630.0" cy="666.6" r="6.7"/><circle cx="629.3" cy="672.6" r="6.7"/><circle cx="630.0" cy="678.6" r="6.7"/><circle cx="629.3" cy="684.6" r="6.7"/><circle cx="630.0" cy="690.6" r="6.7"/><circle cx="629.3" cy="696.6" r="6.7"/><circle cx="645.6" cy="628.2" r="6.7"/><circle cx="646.2" cy="633.2" r="6.7"/><circle cx="645.6" cy="638.2" r="6.7"/><circle cx="646.2" cy="643.2" r="6.7"/><circle cx="645.6" cy="701.9" r="6.7"/><circle cx="646.2" cy="706.9" r="6.7"/><circle cx="645.6" cy="711.9" r="6.7"/><circle cx="646.2" cy="716.9" r="6.7"/><circle cx="661.8" cy="610.5" r="6.7"/><circle cx="662.5" cy="615.5" r="6.7"/><circle cx="661.8" cy="620.5" r="6.7"/><circle cx="661.8" cy="690.1" r="6.7"/><circle cx="662.5" cy="695.1" r="6.7"/><circle cx="694.3" cy="628.2" r="6.7"/><circle cx="695.0" cy="633.2" r="6.7"/><circle cx="694.3" cy="648.8" r="6.7"/><circle cx="695.0" cy="653.8" r="6.7"/><circle cx="710.5" cy="539.8" r="6.7"/><circle cx="711.2" cy="544.8" r="6.7"/><circle cx="710.5" cy="584.0" r="6.7"/><circle cx="711.2" cy="589.0" r="6.7"/><circle cx="710.5" cy="594.0" r="6.7"/><circle cx="726.8" cy="595.8" r="6.7"/><circle cx="727.5" cy="600.3" r="6.7"/><circle cx="726.8" cy="604.8" r="6.7"/><circle cx="727.5" cy="609.3" r="6.7"/><circle cx="726.8" cy="613.8" r="6.7"/><circle cx="727.5" cy="618.3" r="6.7"/><circle cx="726.8" cy="622.8" r="6.7"/><circle cx="727.5" cy="627.3" r="6.7"/><circle cx="726.8" cy="631.8" r="6.7"/><circle cx="726.8" cy="666.5" r="6.7"/><circle cx="727.5" cy="671.5" r="6.7"/><circle cx="743.1" cy="640.0" r="6.7"/><circle cx="743.8" cy="645.0" r="6.7"/><circle cx="759.3" cy="554.5" r="6.7"/><circle cx="760.0" cy="559.0" r="6.7"/><circle cx="759.3" cy="563.5" r="6.7"/><circle cx="759.3" cy="595.8" r="6.7"/><circle cx="760.0" cy="600.8" r="6.7"/><circle cx="759.3" cy="605.8" r="6.7"/><circle cx="775.6" cy="589.9" r="6.7"/><circle cx="776.2" cy="594.9" r="6.7"/><circle cx="775.6" cy="599.9" r="6.7"/><circle cx="808.1" cy="572.2" r="6.7"/><circle cx="808.8" cy="577.2" r="6.7"/><circle cx="808.1" cy="582.2" r="6.7"/><circle cx="905.5" cy="459.7" r="6.7"/><circle cx="906.2" cy="464.7" r="6.7"/><circle cx="905.5" cy="469.7" r="6.7"/><circle cx="906.2" cy="474.7" r="6.7"/><circle cx="905.5" cy="479.7" r="6.7"/><circle cx="906.2" cy="484.7" r="6.7"/><circle cx="905.5" cy="489.7" r="6.7"/><circle cx="906.2" cy="494.7" r="6.7"/><circle cx="905.5" cy="499.7" r="6.7"/><circle cx="906.2" cy="504.7" r="6.7"/><circle cx="905.5" cy="509.7" r="6.7"/><circle cx="938.1" cy="468.5" r="6.7"/><circle cx="938.8" cy="473.5" r="6.7"/><circle cx="938.1" cy="478.5" r="6.7"/><circle cx="938.8" cy="483.5" r="6.7"/><circle cx="938.1" cy="488.5" r="6.7"/><circle cx="938.8" cy="493.5" r="6.7"/><circle cx="938.1" cy="498.5" r="6.7"/><circle cx="938.8" cy="503.5" r="6.7"/><circle cx="938.1" cy="542.2" r="6.7"/><circle cx="938.8" cy="547.2" r="6.7"/><circle cx="938.1" cy="552.2" r="6.7"/><circle cx="938.8" cy="557.2" r="6.7"/><circle cx="938.1" cy="562.2" r="6.7"/><circle cx="954.3" cy="509.8" r="6.7"/><circle cx="955.0" cy="514.8" r="6.7"/><circle cx="954.3" cy="519.8" r="6.7"/><circle cx="955.0" cy="524.8" r="6.7"/><circle cx="954.3" cy="529.8" r="6.7"/><circle cx="955.0" cy="534.8" r="6.7"/><circle cx="970.6" cy="530.4" r="6.7"/><circle cx="971.3" cy="535.4" r="6.7"/><circle cx="970.6" cy="540.4" r="6.7"/><circle cx="986.8" cy="459.7" r="6.7"/><circle cx="987.5" cy="464.7" r="6.7"/><circle cx="986.8" cy="469.7" r="6.7"/><circle cx="987.5" cy="474.7" r="6.7"/><circle cx="986.8" cy="479.7" r="6.7"/><circle cx="987.5" cy="484.7" r="6.7"/><circle cx="986.8" cy="489.7" r="6.7"/><circle cx="987.5" cy="494.7" r="6.7"/><circle cx="986.8" cy="506.8" r="6.7"/><circle cx="987.5" cy="511.8" r="6.7"/><circle cx="1003.1" cy="430.2" r="6.7"/><circle cx="1003.8" cy="435.2" r="6.7"/><circle cx="1003.1" cy="440.2" r="6.7"/><circle cx="1003.8" cy="445.2" r="6.7"/><circle cx="1003.1" cy="450.2" r="6.7"/><circle cx="1003.8" cy="455.2" r="6.7"/><circle cx="1003.1" cy="487.7" r="6.7"/><circle cx="1003.8" cy="492.7" r="6.7"/><circle cx="1019.3" cy="447.9" r="6.7"/><circle cx="1020.0" cy="452.9" r="6.7"/><circle cx="1019.3" cy="457.9" r="6.7"/><circle cx="1068.1" cy="371.3" r="6.7"/><circle cx="1068.8" cy="376.3" r="6.7"/><circle cx="1068.1" cy="381.3" r="6.7"/><circle cx="1068.8" cy="386.3" r="6.7"/><circle cx="1068.1" cy="391.3" r="6.7"/><circle cx="1068.1" cy="440.5" r="6.7"/><circle cx="1068.8" cy="445.5" r="6.7"/><circle cx="1068.1" cy="450.5" r="6.7"/><circle cx="1100.5" cy="412.5" r="6.7"/><circle cx="1101.2" cy="417.5" r="6.7"/><circle cx="1100.5" cy="422.5" r="6.7"/><circle cx="1101.2" cy="427.5" r="6.7"/><circle cx="1116.8" cy="440.5" r="6.7"/><circle cx="1117.5" cy="445.5" r="6.7"/><circle cx="1116.8" cy="450.5" r="6.7"/><circle cx="1133.0" cy="384.5" r="6.7"/><circle cx="1133.8" cy="389.5" r="6.7"/><circle cx="1133.0" cy="394.5" r="6.7"/><circle cx="1165.6" cy="371.3" r="6.7"/><circle cx="1166.3" cy="376.3" r="6.7"/><circle cx="1165.6" cy="381.3" r="6.7"/><circle cx="1181.8" cy="416.9" r="6.7"/><circle cx="1182.5" cy="421.9" r="6.7"/><circle cx="1181.8" cy="426.9" r="6.7"/><circle cx="1198.0" cy="416.9" r="6.7"/><circle cx="1198.8" cy="421.9" r="6.7"/><circle cx="1214.3" cy="384.5" r="6.7"/><circle cx="1215.0" cy="389.5" r="6.7"/><circle cx="1214.3" cy="394.5" r="6.7"/><circle cx="1215.0" cy="399.5" r="6.7"/>
</g>
<g fill="none" stroke="#2e2e2e" stroke-width="2.4" id="pts">
<circle cx="467.1" cy="733.6" r="6.7"/><circle cx="467.1" cy="754.4" r="6.7"/><circle cx="483.4" cy="681.3" r="6.7"/><circle cx="483.4" cy="710.4" r="6.7"/><circle cx="483.4" cy="751.7" r="6.7"/><circle cx="499.6" cy="696.0" r="6.7"/><circle cx="499.6" cy="716.0" r="6.7"/><circle cx="499.6" cy="725.6" r="6.7"/><circle cx="499.6" cy="733.6" r="6.7"/><circle cx="499.6" cy="768.8" r="6.7"/><circle cx="515.9" cy="648.8" r="6.7"/><circle cx="515.9" cy="664.0" r="6.7"/><circle cx="515.9" cy="671.2" r="6.7"/><circle cx="515.9" cy="677.6" r="6.7"/><circle cx="515.9" cy="684.8" r="6.7"/><circle cx="515.9" cy="710.9" r="6.7"/><circle cx="515.9" cy="716.0" r="6.7"/><circle cx="515.9" cy="729.6" r="6.7"/><circle cx="515.9" cy="735.2" r="6.7"/><circle cx="515.9" cy="744.3" r="6.7"/><circle cx="532.1" cy="655.2" r="6.7"/><circle cx="532.1" cy="696.0" r="6.7"/><circle cx="532.1" cy="710.4" r="6.7"/><circle cx="532.1" cy="716.8" r="6.7"/><circle cx="532.1" cy="720.0" r="6.7"/><circle cx="532.1" cy="737.6" r="6.7"/><circle cx="532.1" cy="744.8" r="6.7"/><circle cx="548.3" cy="646.4" r="6.7"/><circle cx="548.3" cy="679.2" r="6.7"/><circle cx="548.3" cy="687.0" r="6.7"/><circle cx="548.3" cy="689.0" r="6.7"/><circle cx="548.3" cy="692.8" r="6.7"/><circle cx="548.3" cy="710.4" r="6.7"/><circle cx="548.3" cy="715.2" r="6.7"/><circle cx="548.3" cy="728.6" r="6.7"/><circle cx="548.3" cy="730.6" r="6.7"/><circle cx="548.3" cy="732.8" r="6.7"/><circle cx="548.3" cy="742.4" r="6.7"/><circle cx="564.6" cy="657.6" r="6.7"/><circle cx="564.6" cy="667.2" r="6.7"/><circle cx="564.6" cy="674.4" r="6.7"/><circle cx="564.6" cy="682.2" r="6.7"/><circle cx="564.6" cy="684.2" r="6.7"/><circle cx="564.6" cy="688.0" r="6.7"/><circle cx="564.6" cy="704.0" r="6.7"/><circle cx="564.6" cy="707.2" r="6.7"/><circle cx="564.6" cy="710.4" r="6.7"/><circle cx="564.6" cy="713.6" r="6.7"/><circle cx="564.6" cy="716.8" r="6.7"/><circle cx="564.6" cy="720.0" r="6.7"/><circle cx="564.6" cy="727.2" r="6.7"/><circle cx="564.6" cy="754.4" r="6.7"/><circle cx="580.9" cy="655.2" r="6.7"/><circle cx="580.9" cy="659.2" r="6.7"/><circle cx="580.9" cy="676.0" r="6.7"/><circle cx="580.9" cy="680.0" r="6.7"/><circle cx="580.9" cy="684.8" r="6.7"/><circle cx="580.9" cy="689.6" r="6.7"/><circle cx="580.9" cy="694.4" r="6.7"/><circle cx="580.9" cy="699.2" r="6.7"/><circle cx="580.9" cy="704.0" r="6.7"/><circle cx="580.9" cy="708.8" r="6.7"/><circle cx="580.9" cy="715.2" r="6.7"/><circle cx="580.9" cy="721.6" r="6.7"/><circle cx="580.9" cy="745.6" r="6.7"/><circle cx="597.1" cy="655.0" r="6.7"/><circle cx="597.1" cy="657.0" r="6.7"/><circle cx="597.1" cy="676.8" r="6.7"/><circle cx="597.1" cy="679.0" r="6.7"/><circle cx="597.1" cy="681.0" r="6.7"/><circle cx="597.1" cy="689.6" r="6.7"/><circle cx="597.1" cy="692.8" r="6.7"/><circle cx="597.1" cy="700.8" r="6.7"/><circle cx="597.1" cy="709.4" r="6.7"/><circle cx="597.1" cy="711.4" r="6.7"/><circle cx="597.1" cy="713.6" r="6.7"/><circle cx="597.1" cy="724.8" r="6.7"/><circle cx="613.4" cy="648.0" r="6.7"/><circle cx="613.4" cy="657.6" r="6.7"/><circle cx="613.4" cy="662.4" r="6.7"/><circle cx="613.4" cy="667.2" r="6.7"/><circle cx="613.4" cy="672.0" r="6.7"/><circle cx="613.4" cy="676.8" r="6.7"/><circle cx="613.4" cy="681.6" r="6.7"/><circle cx="613.4" cy="686.4" r="6.7"/><circle cx="613.4" cy="691.2" r="6.7"/><circle cx="613.4" cy="713.6" r="6.7"/><circle cx="613.4" cy="718.4" r="6.7"/><circle cx="613.4" cy="736.8" r="6.7"/><circle cx="629.6" cy="649.6" r="6.7"/><circle cx="629.6" cy="657.6" r="6.7"/><circle cx="629.6" cy="664.0" r="6.7"/><circle cx="629.6" cy="670.4" r="6.7"/><circle cx="629.6" cy="676.8" r="6.7"/><circle cx="629.6" cy="683.2" r="6.7"/><circle cx="629.6" cy="689.6" r="6.7"/><circle cx="629.6" cy="694.4" r="6.7"/><circle cx="629.6" cy="703.0" r="6.7"/><circle cx="629.6" cy="705.0" r="6.7"/><circle cx="629.6" cy="707.2" r="6.7"/><circle cx="629.6" cy="721.6" r="6.7"/><circle cx="629.6" cy="725.6" r="6.7"/><circle cx="645.9" cy="654.4" r="6.7"/><circle cx="645.9" cy="676.8" r="6.7"/><circle cx="645.9" cy="681.6" r="6.7"/><circle cx="645.9" cy="686.4" r="6.7"/><circle cx="645.9" cy="692.8" r="6.7"/><circle cx="645.9" cy="704.0" r="6.7"/><circle cx="645.9" cy="708.8" r="6.7"/><circle cx="645.9" cy="712.6" r="6.7"/><circle cx="645.9" cy="714.6" r="6.7"/><circle cx="645.9" cy="716.8" r="6.7"/><circle cx="662.1" cy="670.4" r="6.7"/><circle cx="662.1" cy="675.2" r="6.7"/><circle cx="662.1" cy="681.6" r="6.7"/><circle cx="662.1" cy="688.0" r="6.7"/><circle cx="662.1" cy="695.0" r="6.7"/><circle cx="662.1" cy="697.0" r="6.7"/><circle cx="662.1" cy="699.2" r="6.7"/><circle cx="662.1" cy="712.6" r="6.7"/><circle cx="662.1" cy="714.6" r="6.7"/><circle cx="678.4" cy="652.0" r="6.7"/><circle cx="678.4" cy="664.0" r="6.7"/><circle cx="678.4" cy="668.8" r="6.7"/><circle cx="678.4" cy="674.4" r="6.7"/><circle cx="678.4" cy="678.4" r="6.7"/><circle cx="678.4" cy="730.4" r="6.7"/><circle cx="694.6" cy="648.0" r="6.7"/><circle cx="694.6" cy="652.8" r="6.7"/><circle cx="694.6" cy="657.6" r="6.7"/><circle cx="694.6" cy="662.4" r="6.7"/><circle cx="694.6" cy="668.8" r="6.7"/><circle cx="694.6" cy="673.6" r="6.7"/><circle cx="694.6" cy="703.8" r="6.7"/><circle cx="694.6" cy="704.8" r="6.7"/><circle cx="694.6" cy="705.8" r="6.7"/><circle cx="483.4" cy="617.6" r="6.7"/><circle cx="532.1" cy="617.6" r="6.7"/><circle cx="532.1" cy="636.6" r="6.7"/><circle cx="532.1" cy="638.6" r="6.7"/><circle cx="548.3" cy="623.2" r="6.7"/><circle cx="564.6" cy="562.4" r="6.7"/><circle cx="564.6" cy="612.6" r="6.7"/><circle cx="564.6" cy="614.6" r="6.7"/><circle cx="564.6" cy="618.4" r="6.7"/><circle cx="564.6" cy="628.0" r="6.7"/><circle cx="580.9" cy="594.4" r="6.7"/><circle cx="580.9" cy="618.4" r="6.7"/><circle cx="580.9" cy="624.0" r="6.7"/><circle cx="580.9" cy="629.6" r="6.7"/><circle cx="580.9" cy="634.4" r="6.7"/><circle cx="597.1" cy="600.6" r="6.7"/><circle cx="597.1" cy="602.6" r="6.7"/><circle cx="597.1" cy="623.2" r="6.7"/><circle cx="597.1" cy="635.0" r="6.7"/><circle cx="597.1" cy="637.0" r="6.7"/><circle cx="613.4" cy="585.6" r="6.7"/><circle cx="629.6" cy="610.4" r="6.7"/><circle cx="629.6" cy="615.2" r="6.7"/><circle cx="629.6" cy="620.0" r="6.7"/><circle cx="629.6" cy="626.4" r="6.7"/><circle cx="629.6" cy="639.8" r="6.7"/><circle cx="629.6" cy="641.8" r="6.7"/><circle cx="645.9" cy="507.2" r="6.7"/><circle cx="645.9" cy="584.8" r="6.7"/><circle cx="645.9" cy="596.6" r="6.7"/><circle cx="645.9" cy="598.6" r="6.7"/><circle cx="645.9" cy="617.6" r="6.7"/><circle cx="645.9" cy="631.8" r="6.7"/><circle cx="645.9" cy="633.8" r="6.7"/><circle cx="645.9" cy="639.2" r="6.7"/><circle cx="645.9" cy="644.0" r="6.7"/><circle cx="662.1" cy="524.8" r="6.7"/><circle cx="662.1" cy="573.6" r="6.7"/><circle cx="662.1" cy="591.0" r="6.7"/><circle cx="662.1" cy="593.0" r="6.7"/><circle cx="662.1" cy="608.8" r="6.7"/><circle cx="662.1" cy="613.6" r="6.7"/><circle cx="662.1" cy="618.4" r="6.7"/><circle cx="662.1" cy="623.2" r="6.7"/><circle cx="662.1" cy="636.8" r="6.7"/><circle cx="678.4" cy="565.6" r="6.7"/><circle cx="678.4" cy="576.0" r="6.7"/><circle cx="678.4" cy="618.4" r="6.7"/><circle cx="678.4" cy="623.2" r="6.7"/><circle cx="694.6" cy="594.4" r="6.7"/><circle cx="694.6" cy="599.2" r="6.7"/><circle cx="694.6" cy="604.0" r="6.7"/><circle cx="694.6" cy="617.6" r="6.7"/><circle cx="694.6" cy="631.8" r="6.7"/><circle cx="694.6" cy="633.8" r="6.7"/><circle cx="694.6" cy="644.0" r="6.7"/><circle cx="710.8" cy="579.2" r="6.7"/><circle cx="710.8" cy="589.4" r="6.7"/><circle cx="710.8" cy="591.4" r="6.7"/><circle cx="710.8" cy="595.2" r="6.7"/><circle cx="710.8" cy="620.0" r="6.7"/><circle cx="710.8" cy="654.4" r="6.7"/><circle cx="710.8" cy="659.2" r="6.7"/><circle cx="710.8" cy="708.8" r="6.7"/><circle cx="727.1" cy="579.2" r="6.7"/><circle cx="727.1" cy="592.0" r="6.7"/><circle cx="727.1" cy="599.0" r="6.7"/><circle cx="727.1" cy="601.0" r="6.7"/><circle cx="727.1" cy="608.0" r="6.7"/><circle cx="727.1" cy="614.4" r="6.7"/><circle cx="727.1" cy="620.8" r="6.7"/><circle cx="727.1" cy="627.2" r="6.7"/><circle cx="727.1" cy="633.6" r="6.7"/><circle cx="727.1" cy="640.0" r="6.7"/><circle cx="727.1" cy="652.8" r="6.7"/><circle cx="727.1" cy="664.6" r="6.7"/><circle cx="727.1" cy="666.6" r="6.7"/><circle cx="727.1" cy="670.4" r="6.7"/><circle cx="727.1" cy="706.4" r="6.7"/><circle cx="743.4" cy="576.0" r="6.7"/><circle cx="743.4" cy="593.6" r="6.7"/><circle cx="743.4" cy="619.2" r="6.7"/><circle cx="743.4" cy="624.0" r="6.7"/><circle cx="743.4" cy="628.8" r="6.7"/><circle cx="743.4" cy="642.2" r="6.7"/><circle cx="743.4" cy="644.2" r="6.7"/><circle cx="743.4" cy="646.4" r="6.7"/><circle cx="743.4" cy="672.0" r="6.7"/><circle cx="759.6" cy="584.0" r="6.7"/><circle cx="759.6" cy="594.2" r="6.7"/><circle cx="759.6" cy="596.2" r="6.7"/><circle cx="759.6" cy="600.0" r="6.7"/><circle cx="759.6" cy="606.4" r="6.7"/><circle cx="759.6" cy="635.2" r="6.7"/><circle cx="759.6" cy="640.0" r="6.7"/><circle cx="759.6" cy="651.2" r="6.7"/><circle cx="775.9" cy="568.0" r="6.7"/><circle cx="775.9" cy="590.4" r="6.7"/><circle cx="775.9" cy="594.2" r="6.7"/><circle cx="775.9" cy="596.2" r="6.7"/><circle cx="775.9" cy="600.0" r="6.7"/><circle cx="775.9" cy="609.6" r="6.7"/><circle cx="775.9" cy="624.0" r="6.7"/><circle cx="775.9" cy="632.0" r="6.7"/><circle cx="792.1" cy="588.0" r="6.7"/><circle cx="792.1" cy="603.2" r="6.7"/><circle cx="808.4" cy="572.8" r="6.7"/><circle cx="808.4" cy="577.6" r="6.7"/><circle cx="808.4" cy="582.4" r="6.7"/><circle cx="808.4" cy="605.6" r="6.7"/><circle cx="808.4" cy="648.8" r="6.7"/><circle cx="824.6" cy="579.8" r="6.7"/><circle cx="824.6" cy="581.8" r="6.7"/><circle cx="840.9" cy="570.4" r="6.7"/><circle cx="857.1" cy="594.1" r="6.7"/><circle cx="857.1" cy="652.0" r="6.7"/><circle cx="873.3" cy="581.9" r="6.7"/><circle cx="873.3" cy="600.0" r="6.7"/><circle cx="889.6" cy="570.4" r="6.7"/><circle cx="889.6" cy="608.8" r="6.7"/><circle cx="905.8" cy="576.8" r="6.7"/><circle cx="905.8" cy="584.8" r="6.7"/><circle cx="922.1" cy="584.8" r="6.7"/><circle cx="938.4" cy="579.2" r="6.7"/><circle cx="710.8" cy="535.2" r="6.7"/><circle cx="710.8" cy="540.6" r="6.7"/><circle cx="710.8" cy="542.6" r="6.7"/><circle cx="710.8" cy="548.0" r="6.7"/><circle cx="727.1" cy="466.4" r="6.7"/><circle cx="727.1" cy="500.8" r="6.7"/><circle cx="727.1" cy="542.4" r="6.7"/><circle cx="727.1" cy="548.0" r="6.7"/><circle cx="743.4" cy="521.6" r="6.7"/><circle cx="743.4" cy="555.0" r="6.7"/><circle cx="743.4" cy="557.0" r="6.7"/><circle cx="743.4" cy="559.2" r="6.7"/><circle cx="759.6" cy="494.2" r="6.7"/><circle cx="759.6" cy="496.2" r="6.7"/><circle cx="759.6" cy="499.0" r="6.7"/><circle cx="759.6" cy="501.0" r="6.7"/><circle cx="759.6" cy="518.4" r="6.7"/><circle cx="759.6" cy="526.4" r="6.7"/><circle cx="759.6" cy="555.8" r="6.7"/><circle cx="759.6" cy="557.8" r="6.7"/><circle cx="759.6" cy="560.8" r="6.7"/><circle cx="759.6" cy="564.6" r="6.7"/><circle cx="759.6" cy="566.6" r="6.7"/><circle cx="775.9" cy="454.4" r="6.7"/><circle cx="775.9" cy="540.0" r="6.7"/><circle cx="775.9" cy="543.8" r="6.7"/><circle cx="775.9" cy="545.8" r="6.7"/><circle cx="775.9" cy="560.8" r="6.7"/><circle cx="792.1" cy="465.6" r="6.7"/><circle cx="792.1" cy="509.6" r="6.7"/><circle cx="792.1" cy="513.4" r="6.7"/><circle cx="792.1" cy="515.4" r="6.7"/><circle cx="792.1" cy="517.6" r="6.7"/><circle cx="792.1" cy="532.8" r="6.7"/><circle cx="792.1" cy="564.0" r="6.7"/><circle cx="808.4" cy="454.4" r="6.7"/><circle cx="808.4" cy="483.2" r="6.7"/><circle cx="808.4" cy="546.4" r="6.7"/><circle cx="808.4" cy="554.4" r="6.7"/><circle cx="808.4" cy="559.2" r="6.7"/><circle cx="824.6" cy="454.4" r="6.7"/><circle cx="824.6" cy="511.8" r="6.7"/><circle cx="824.6" cy="513.8" r="6.7"/><circle cx="824.6" cy="535.2" r="6.7"/><circle cx="824.6" cy="544.8" r="6.7"/><circle cx="824.6" cy="548.0" r="6.7"/><circle cx="824.6" cy="560.8" r="6.7"/><circle cx="840.9" cy="463.2" r="6.7"/><circle cx="840.9" cy="497.6" r="6.7"/><circle cx="840.9" cy="547.2" r="6.7"/><circle cx="857.1" cy="544.8" r="6.7"/><circle cx="873.3" cy="465.4" r="6.7"/><circle cx="873.3" cy="467.4" r="6.7"/><circle cx="873.3" cy="484.0" r="6.7"/><circle cx="889.6" cy="428.6" r="6.7"/><circle cx="889.6" cy="430.6" r="6.7"/><circle cx="889.6" cy="451.2" r="6.7"/><circle cx="889.6" cy="468.0" r="6.7"/><circle cx="889.6" cy="479.2" r="6.7"/><circle cx="889.6" cy="487.8" r="6.7"/><circle cx="889.6" cy="489.8" r="6.7"/><circle cx="889.6" cy="492.0" r="6.7"/><circle cx="889.6" cy="498.4" r="6.7"/><circle cx="889.6" cy="521.4" r="6.7"/><circle cx="889.6" cy="523.4" r="6.7"/><circle cx="889.6" cy="525.6" r="6.7"/><circle cx="889.6" cy="549.4" r="6.7"/><circle cx="889.6" cy="551.4" r="6.7"/><circle cx="905.8" cy="451.2" r="6.7"/><circle cx="905.8" cy="464.8" r="6.7"/><circle cx="905.8" cy="469.6" r="6.7"/><circle cx="905.8" cy="484.0" r="6.7"/><circle cx="905.8" cy="488.8" r="6.7"/><circle cx="905.8" cy="495.2" r="6.7"/><circle cx="905.8" cy="505.4" r="6.7"/><circle cx="905.8" cy="507.4" r="6.7"/><circle cx="905.8" cy="511.2" r="6.7"/><circle cx="905.8" cy="529.6" r="6.7"/><circle cx="905.8" cy="541.6" r="6.7"/><circle cx="922.1" cy="428.8" r="6.7"/><circle cx="922.1" cy="535.2" r="6.7"/><circle cx="922.1" cy="540.0" r="6.7"/><circle cx="922.1" cy="544.8" r="6.7"/><circle cx="938.4" cy="431.2" r="6.7"/><circle cx="938.4" cy="471.2" r="6.7"/><circle cx="938.4" cy="476.0" r="6.7"/><circle cx="938.4" cy="482.4" r="6.7"/><circle cx="938.4" cy="488.8" r="6.7"/><circle cx="938.4" cy="495.2" r="6.7"/><circle cx="938.4" cy="500.0" r="6.7"/><circle cx="938.4" cy="506.4" r="6.7"/><circle cx="938.4" cy="512.8" r="6.7"/><circle cx="938.4" cy="524.0" r="6.7"/><circle cx="938.4" cy="538.4" r="6.7"/><circle cx="938.4" cy="551.2" r="6.7"/><circle cx="938.4" cy="559.2" r="6.7"/><circle cx="889.6" cy="376.2" r="6.7"/><circle cx="889.6" cy="378.2" r="6.7"/><circle cx="905.8" cy="398.8" r="6.7"/><circle cx="905.8" cy="422.0" r="6.7"/><circle cx="938.4" cy="396.4" r="6.7"/><circle cx="938.4" cy="416.4" r="6.7"/><circle cx="954.6" cy="474.0" r="6.7"/><circle cx="954.6" cy="490.0" r="6.7"/><circle cx="954.6" cy="496.4" r="6.7"/><circle cx="954.6" cy="509.8" r="6.7"/><circle cx="954.6" cy="511.8" r="6.7"/><circle cx="954.6" cy="517.2" r="6.7"/><circle cx="954.6" cy="523.6" r="6.7"/><circle cx="954.6" cy="535.4" r="6.7"/><circle cx="954.6" cy="537.4" r="6.7"/><circle cx="954.6" cy="539.6" r="6.7"/><circle cx="954.6" cy="585.2" r="6.7"/><circle cx="970.9" cy="474.0" r="6.7"/><circle cx="970.9" cy="492.4" r="6.7"/><circle cx="970.9" cy="507.6" r="6.7"/><circle cx="970.9" cy="514.0" r="6.7"/><circle cx="970.9" cy="533.8" r="6.7"/><circle cx="970.9" cy="535.8" r="6.7"/><circle cx="970.9" cy="539.6" r="6.7"/><circle cx="970.9" cy="542.0" r="6.7"/><circle cx="970.9" cy="565.8" r="6.7"/><circle cx="970.9" cy="567.8" r="6.7"/><circle cx="987.1" cy="462.8" r="6.7"/><circle cx="987.1" cy="469.2" r="6.7"/><circle cx="987.1" cy="475.6" r="6.7"/><circle cx="987.1" cy="480.4" r="6.7"/><circle cx="987.1" cy="487.4" r="6.7"/><circle cx="987.1" cy="489.4" r="6.7"/><circle cx="987.1" cy="491.6" r="6.7"/><circle cx="987.1" cy="509.8" r="6.7"/><circle cx="987.1" cy="511.8" r="6.7"/><circle cx="987.1" cy="517.2" r="6.7"/><circle cx="987.1" cy="570.8" r="6.7"/><circle cx="1003.4" cy="490.0" r="6.7"/><circle cx="1003.4" cy="493.8" r="6.7"/><circle cx="1003.4" cy="495.8" r="6.7"/><circle cx="1003.4" cy="521.2" r="6.7"/><circle cx="1003.4" cy="532.2" r="6.7"/><circle cx="1003.4" cy="534.2" r="6.7"/><circle cx="1003.4" cy="536.4" r="6.7"/><circle cx="1003.4" cy="550.0" r="6.7"/><circle cx="1003.4" cy="558.0" r="6.7"/><circle cx="1019.6" cy="456.4" r="6.7"/><circle cx="1019.6" cy="459.6" r="6.7"/><circle cx="1019.6" cy="469.2" r="6.7"/><circle cx="1019.6" cy="492.4" r="6.7"/><circle cx="1019.6" cy="499.6" r="6.7"/><circle cx="1019.6" cy="533.2" r="6.7"/><circle cx="1019.6" cy="555.6" r="6.7"/><circle cx="1035.8" cy="466.0" r="6.7"/><circle cx="1035.8" cy="479.4" r="6.7"/><circle cx="1035.8" cy="481.4" r="6.7"/><circle cx="1035.8" cy="485.2" r="6.7"/><circle cx="1035.8" cy="491.6" r="6.7"/><circle cx="1035.8" cy="506.0" r="6.7"/><circle cx="1052.1" cy="474.0" r="6.7"/><circle cx="1052.1" cy="482.0" r="6.7"/><circle cx="1052.1" cy="500.4" r="6.7"/><circle cx="1052.1" cy="521.2" r="6.7"/><circle cx="1068.4" cy="512.4" r="6.7"/><circle cx="1084.6" cy="466.0" r="6.7"/><circle cx="1084.6" cy="518.0" r="6.7"/><circle cx="1100.8" cy="463.6" r="6.7"/><circle cx="1100.8" cy="486.6" r="6.7"/><circle cx="1100.8" cy="488.6" r="6.7"/><circle cx="1100.8" cy="504.4" r="6.7"/><circle cx="1100.8" cy="521.2" r="6.7"/><circle cx="1117.1" cy="469.2" r="6.7"/><circle cx="1117.1" cy="477.2" r="6.7"/><circle cx="1117.1" cy="494.8" r="6.7"/><circle cx="1117.1" cy="515.6" r="6.7"/><circle cx="1133.3" cy="459.6" r="6.7"/><circle cx="1133.3" cy="492.4" r="6.7"/><circle cx="1149.6" cy="469.2" r="6.7"/><circle cx="1149.6" cy="482.6" r="6.7"/><circle cx="1149.6" cy="484.6" r="6.7"/><circle cx="1149.6" cy="491.6" r="6.7"/><circle cx="1165.9" cy="458.0" r="6.7"/><circle cx="1165.9" cy="468.2" r="6.7"/><circle cx="1165.9" cy="470.2" r="6.7"/><circle cx="1165.9" cy="474.0" r="6.7"/><circle cx="1165.9" cy="483.6" r="6.7"/><circle cx="1182.1" cy="492.4" r="6.7"/><circle cx="954.6" cy="375.6" r="6.7"/><circle cx="954.6" cy="413.2" r="6.7"/><circle cx="970.9" cy="352.4" r="6.7"/><circle cx="970.9" cy="439.4" r="6.7"/><circle cx="970.9" cy="441.4" r="6.7"/><circle cx="987.1" cy="354.8" r="6.7"/><circle cx="987.1" cy="384.4" r="6.7"/><circle cx="987.1" cy="404.4" r="6.7"/><circle cx="987.1" cy="434.0" r="6.7"/><circle cx="1003.4" cy="433.2" r="6.7"/><circle cx="1003.4" cy="442.8" r="6.7"/><circle cx="1003.4" cy="449.2" r="6.7"/><circle cx="1003.4" cy="454.0" r="6.7"/><circle cx="1019.6" cy="372.4" r="6.7"/><circle cx="1019.6" cy="385.2" r="6.7"/><circle cx="1019.6" cy="433.2" r="6.7"/><circle cx="1019.6" cy="447.6" r="6.7"/><circle cx="1019.6" cy="452.4" r="6.7"/><circle cx="1035.8" cy="404.4" r="6.7"/><circle cx="1035.8" cy="427.4" r="6.7"/><circle cx="1035.8" cy="429.4" r="6.7"/><circle cx="1035.8" cy="446.0" r="6.7"/><circle cx="1052.1" cy="360.4" r="6.7"/><circle cx="1052.1" cy="393.2" r="6.7"/><circle cx="1052.1" cy="407.6" r="6.7"/><circle cx="1052.1" cy="414.0" r="6.7"/><circle cx="1052.1" cy="433.2" r="6.7"/><circle cx="1052.1" cy="454.0" r="6.7"/><circle cx="1068.4" cy="343.6" r="6.7"/><circle cx="1068.4" cy="369.2" r="6.7"/><circle cx="1068.4" cy="374.0" r="6.7"/><circle cx="1068.4" cy="383.6" r="6.7"/><circle cx="1068.4" cy="388.4" r="6.7"/><circle cx="1068.4" cy="393.2" r="6.7"/><circle cx="1068.4" cy="410.8" r="6.7"/><circle cx="1068.4" cy="428.4" r="6.7"/><circle cx="1068.4" cy="442.8" r="6.7"/><circle cx="1068.4" cy="447.6" r="6.7"/><circle cx="1068.4" cy="452.4" r="6.7"/><circle cx="1084.6" cy="321.8" r="6.7"/><circle cx="1084.6" cy="323.8" r="6.7"/><circle cx="1084.6" cy="327.6" r="6.7"/><circle cx="1084.6" cy="334.0" r="6.7"/><circle cx="1084.6" cy="386.8" r="6.7"/><circle cx="1084.6" cy="407.6" r="6.7"/><circle cx="1100.8" cy="316.4" r="6.7"/><circle cx="1100.8" cy="334.0" r="6.7"/><circle cx="1100.8" cy="338.8" r="6.7"/><circle cx="1100.8" cy="370.8" r="6.7"/><circle cx="1100.8" cy="382.0" r="6.7"/><circle cx="1100.8" cy="388.4" r="6.7"/><circle cx="1100.8" cy="396.4" r="6.7"/><circle cx="1100.8" cy="412.4" r="6.7"/><circle cx="1100.8" cy="417.2" r="6.7"/><circle cx="1100.8" cy="425.2" r="6.7"/><circle cx="1100.8" cy="433.2" r="6.7"/><circle cx="1117.1" cy="338.0" r="6.7"/><circle cx="1117.1" cy="393.2" r="6.7"/><circle cx="1117.1" cy="409.2" r="6.7"/><circle cx="1117.1" cy="421.0" r="6.7"/><circle cx="1117.1" cy="423.0" r="6.7"/><circle cx="1117.1" cy="426.8" r="6.7"/><circle cx="1117.1" cy="442.8" r="6.7"/><circle cx="1117.1" cy="446.6" r="6.7"/><circle cx="1117.1" cy="448.6" r="6.7"/><circle cx="1117.1" cy="452.4" r="6.7"/><circle cx="1133.3" cy="330.8" r="6.7"/><circle cx="1133.3" cy="337.2" r="6.7"/><circle cx="1133.3" cy="361.2" r="6.7"/><circle cx="1133.3" cy="384.2" r="6.7"/><circle cx="1133.3" cy="386.2" r="6.7"/><circle cx="1133.3" cy="390.0" r="6.7"/><circle cx="1133.3" cy="394.8" r="6.7"/><circle cx="1133.3" cy="404.4" r="6.7"/><circle cx="1149.6" cy="326.0" r="6.7"/><circle cx="1149.6" cy="343.6" r="6.7"/><circle cx="1149.6" cy="364.4" r="6.7"/><circle cx="1149.6" cy="384.4" r="6.7"/><circle cx="1149.6" cy="415.6" r="6.7"/><circle cx="1149.6" cy="423.6" r="6.7"/><circle cx="1149.6" cy="438.0" r="6.7"/><circle cx="1149.6" cy="444.4" r="6.7"/><circle cx="1165.9" cy="328.4" r="6.7"/><circle cx="1165.9" cy="340.4" r="6.7"/><circle cx="1165.9" cy="370.8" r="6.7"/><circle cx="1165.9" cy="375.6" r="6.7"/><circle cx="1165.9" cy="380.4" r="6.7"/><circle cx="1165.9" cy="385.2" r="6.7"/><circle cx="1165.9" cy="397.2" r="6.7"/><circle cx="1165.9" cy="406.0" r="6.7"/><circle cx="1165.9" cy="412.4" r="6.7"/><circle cx="1165.9" cy="423.6" r="6.7"/><circle cx="1165.9" cy="442.8" r="6.7"/><circle cx="1182.1" cy="346.0" r="6.7"/><circle cx="1182.1" cy="359.6" r="6.7"/><circle cx="1182.1" cy="369.8" r="6.7"/><circle cx="1182.1" cy="371.8" r="6.7"/><circle cx="1182.1" cy="390.0" r="6.7"/><circle cx="1182.1" cy="420.4" r="6.7"/><circle cx="1182.1" cy="425.2" r="6.7"/><circle cx="1182.1" cy="442.8" r="6.7"/><circle cx="1068.4" cy="314.8" r="6.7"/><circle cx="1100.8" cy="230.8" r="6.7"/><circle cx="1100.8" cy="250.0" r="6.7"/><circle cx="1100.8" cy="264.4" r="6.7"/><circle cx="1100.8" cy="278.8" r="6.7"/><circle cx="1100.8" cy="285.2" r="6.7"/><circle cx="1100.8" cy="290.0" r="6.7"/><circle cx="1100.8" cy="307.6" r="6.7"/><circle cx="1117.1" cy="192.4" r="6.7"/><circle cx="1117.1" cy="250.8" r="6.7"/><circle cx="1117.1" cy="268.4" r="6.7"/><circle cx="1117.1" cy="285.2" r="6.7"/><circle cx="1133.3" cy="213.2" r="6.7"/><circle cx="1133.3" cy="245.2" r="6.7"/><circle cx="1133.3" cy="299.6" r="6.7"/><circle cx="1133.3" cy="306.0" r="6.7"/><circle cx="1149.6" cy="221.2" r="6.7"/><circle cx="1149.6" cy="234.0" r="6.7"/><circle cx="1149.6" cy="262.8" r="6.7"/><circle cx="1149.6" cy="284.2" r="6.7"/><circle cx="1149.6" cy="286.2" r="6.7"/><circle cx="1149.6" cy="306.0" r="6.7"/><circle cx="1149.6" cy="312.4" r="6.7"/><circle cx="1165.9" cy="233.2" r="6.7"/><circle cx="1165.9" cy="274.0" r="6.7"/><circle cx="1165.9" cy="300.4" r="6.7"/><circle cx="1182.1" cy="229.2" r="6.7"/><circle cx="1182.1" cy="234.0" r="6.7"/><circle cx="1182.1" cy="240.4" r="6.7"/><circle cx="1182.1" cy="246.8" r="6.7"/><circle cx="1182.1" cy="251.6" r="6.7"/><circle cx="1182.1" cy="278.8" r="6.7"/><circle cx="1182.1" cy="285.2" r="6.7"/><circle cx="1182.1" cy="291.6" r="6.7"/><circle cx="1182.1" cy="299.6" r="6.7"/><circle cx="1198.3" cy="233.2" r="6.7"/><circle cx="1198.3" cy="262.0" r="6.7"/><circle cx="1198.3" cy="287.6" r="6.7"/><circle cx="1214.6" cy="209.2" r="6.7"/><circle cx="1214.6" cy="222.0" r="6.7"/><circle cx="1214.6" cy="244.4" r="6.7"/><circle cx="1214.6" cy="276.4" r="6.7"/><circle cx="1214.6" cy="285.2" r="6.7"/><circle cx="1230.9" cy="168.4" r="6.7"/><circle cx="1230.9" cy="181.2" r="6.7"/><circle cx="1230.9" cy="263.6" r="6.7"/><circle cx="1230.9" cy="269.0" r="6.7"/><circle cx="1230.9" cy="271.0" r="6.7"/><circle cx="1230.9" cy="274.8" r="6.7"/><circle cx="1230.9" cy="287.6" r="6.7"/><circle cx="1247.1" cy="279.6" r="6.7"/><circle cx="1263.3" cy="244.4" r="6.7"/><circle cx="1263.3" cy="269.0" r="6.7"/><circle cx="1263.3" cy="271.0" r="6.7"/><circle cx="1263.3" cy="274.8" r="6.7"/><circle cx="1263.3" cy="281.8" r="6.7"/><circle cx="1263.3" cy="283.8" r="6.7"/><circle cx="1263.3" cy="286.0" r="6.7"/><circle cx="1279.6" cy="169.2" r="6.7"/><circle cx="1279.6" cy="215.6" r="6.7"/><circle cx="1279.6" cy="257.8" r="6.7"/><circle cx="1279.6" cy="259.8" r="6.7"/><circle cx="1279.6" cy="263.6" r="6.7"/><circle cx="1279.6" cy="282.8" r="6.7"/><circle cx="1295.8" cy="230.0" r="6.7"/><circle cx="1295.8" cy="279.4" r="6.7"/><circle cx="1295.8" cy="281.4" r="6.7"/><circle cx="1312.1" cy="213.0" r="6.7"/><circle cx="1312.1" cy="214.0" r="6.7"/><circle cx="1312.1" cy="215.0" r="6.7"/><circle cx="1198.3" cy="337.2" r="6.7"/><circle cx="1198.3" cy="359.4" r="6.7"/><circle cx="1198.3" cy="361.4" r="6.7"/><circle cx="1198.3" cy="365.2" r="6.7"/><circle cx="1198.3" cy="376.4" r="6.7"/><circle cx="1198.3" cy="395.6" r="6.7"/><circle cx="1198.3" cy="402.6" r="6.7"/><circle cx="1198.3" cy="404.6" r="6.7"/><circle cx="1198.3" cy="411.6" r="6.7"/><circle cx="1198.3" cy="420.2" r="6.7"/><circle cx="1198.3" cy="422.2" r="6.7"/><circle cx="1198.3" cy="427.6" r="6.7"/><circle cx="1214.6" cy="322.6" r="6.7"/><circle cx="1214.6" cy="324.6" r="6.7"/><circle cx="1214.6" cy="331.6" r="6.7"/><circle cx="1214.6" cy="349.2" r="6.7"/><circle cx="1214.6" cy="354.0" r="6.7"/><circle cx="1214.6" cy="372.4" r="6.7"/><circle cx="1214.6" cy="386.6" r="6.7"/><circle cx="1214.6" cy="388.6" r="6.7"/><circle cx="1214.6" cy="392.4" r="6.7"/><circle cx="1214.6" cy="398.8" r="6.7"/><circle cx="1214.6" cy="403.6" r="6.7"/><circle cx="1214.6" cy="413.2" r="6.7"/><circle cx="1230.9" cy="297.2" r="6.7"/><circle cx="1230.9" cy="314.6" r="6.7"/><circle cx="1230.9" cy="316.6" r="6.7"/><circle cx="1230.9" cy="320.4" r="6.7"/><circle cx="1230.9" cy="325.2" r="6.7"/><circle cx="1230.9" cy="330.6" r="6.7"/><circle cx="1230.9" cy="332.6" r="6.7"/><circle cx="1230.9" cy="336.4" r="6.7"/><circle cx="1230.9" cy="341.2" r="6.7"/><circle cx="1230.9" cy="352.4" r="6.7"/><circle cx="1230.9" cy="370.0" r="6.7"/><circle cx="1230.9" cy="405.2" r="6.7"/><circle cx="1247.1" cy="295.4" r="6.7"/><circle cx="1247.1" cy="297.4" r="6.7"/><circle cx="1247.1" cy="301.2" r="6.7"/><circle cx="1247.1" cy="307.6" r="6.7"/><circle cx="1247.1" cy="311.4" r="6.7"/><circle cx="1247.1" cy="313.4" r="6.7"/><circle cx="1247.1" cy="317.2" r="6.7"/><circle cx="1247.1" cy="355.6" r="6.7"/><circle cx="1247.1" cy="359.4" r="6.7"/><circle cx="1247.1" cy="361.4" r="6.7"/><circle cx="1247.1" cy="384.4" r="6.7"/><circle cx="1263.3" cy="297.2" r="6.7"/><circle cx="1263.3" cy="312.4" r="6.7"/><circle cx="1263.3" cy="334.8" r="6.7"/><circle cx="1263.3" cy="384.4" r="6.7"/><circle cx="1263.3" cy="398.8" r="6.7"/><circle cx="1263.3" cy="406.8" r="6.7"/><circle cx="1279.6" cy="364.4" r="6.7"/><circle cx="1295.8" cy="378.8" r="6.7"/><circle cx="1312.1" cy="298.0" r="6.7"/><circle cx="1312.1" cy="302.8" r="6.7"/><circle cx="1312.1" cy="307.6" r="6.7"/><circle cx="1312.1" cy="329.2" r="6.7"/><circle cx="1312.1" cy="358.8" r="6.7"/><circle cx="1312.1" cy="393.2" r="6.7"/><circle cx="1344.6" cy="314.8" r="6.7"/><circle cx="531.8" cy="707.8" r="6.7"/><circle cx="532.5" cy="712.8" r="6.7"/><circle cx="531.8" cy="717.8" r="6.7"/><circle cx="548.0" cy="681.3" r="6.7"/><circle cx="548.7" cy="686.3" r="6.7"/><circle cx="548.0" cy="691.3" r="6.7"/><circle cx="548.0" cy="728.4" r="6.7"/><circle cx="548.7" cy="733.4" r="6.7"/><circle cx="564.3" cy="610.5" r="6.7"/><circle cx="565.0" cy="615.5" r="6.7"/><circle cx="564.3" cy="620.5" r="6.7"/><circle cx="564.3" cy="701.9" r="6.7"/><circle cx="565.0" cy="706.4" r="6.7"/><circle cx="564.3" cy="710.9" r="6.7"/><circle cx="565.0" cy="715.4" r="6.7"/><circle cx="564.3" cy="719.9" r="6.7"/><circle cx="580.6" cy="672.4" r="6.7"/><circle cx="581.2" cy="676.9" r="6.7"/><circle cx="580.6" cy="681.4" r="6.7"/><circle cx="581.2" cy="685.9" r="6.7"/><circle cx="580.6" cy="690.4" r="6.7"/><circle cx="581.2" cy="694.9" r="6.7"/><circle cx="580.6" cy="699.4" r="6.7"/><circle cx="581.2" cy="703.9" r="6.7"/><circle cx="580.6" cy="708.4" r="6.7"/><circle cx="596.8" cy="651.8" r="6.7"/><circle cx="597.5" cy="656.8" r="6.7"/><circle cx="596.8" cy="675.4" r="6.7"/><circle cx="597.5" cy="680.4" r="6.7"/><circle cx="596.8" cy="707.8" r="6.7"/><circle cx="597.5" cy="712.8" r="6.7"/><circle cx="613.1" cy="654.7" r="6.7"/><circle cx="613.8" cy="659.2" r="6.7"/><circle cx="613.1" cy="663.7" r="6.7"/><circle cx="613.8" cy="668.2" r="6.7"/><circle cx="613.1" cy="672.7" r="6.7"/><circle cx="613.8" cy="677.2" r="6.7"/><circle cx="613.1" cy="681.7" r="6.7"/><circle cx="613.8" cy="686.2" r="6.7"/><circle cx="629.3" cy="637.0" r="6.7"/><circle cx="630.0" cy="642.0" r="6.7"/><circle cx="629.3" cy="660.6" r="6.7"/><circle cx="630.0" cy="666.6" r="6.7"/><circle cx="629.3" cy="672.6" r="6.7"/><circle cx="630.0" cy="678.6" r="6.7"/><circle cx="629.3" cy="684.6" r="6.7"/><circle cx="630.0" cy="690.6" r="6.7"/><circle cx="629.3" cy="696.6" r="6.7"/><circle cx="645.6" cy="628.2" r="6.7"/><circle cx="646.2" cy="633.2" r="6.7"/><circle cx="645.6" cy="638.2" r="6.7"/><circle cx="646.2" cy="643.2" r="6.7"/><circle cx="645.6" cy="701.9" r="6.7"/><circle cx="646.2" cy="706.9" r="6.7"/><circle cx="645.6" cy="711.9" r="6.7"/><circle cx="646.2" cy="716.9" r="6.7"/><circle cx="661.8" cy="610.5" r="6.7"/><circle cx="662.5" cy="615.5" r="6.7"/><circle cx="661.8" cy="620.5" r="6.7"/><circle cx="661.8" cy="690.1" r="6.7"/><circle cx="662.5" cy="695.1" r="6.7"/><circle cx="694.3" cy="628.2" r="6.7"/><circle cx="695.0" cy="633.2" r="6.7"/><circle cx="694.3" cy="648.8" r="6.7"/><circle cx="695.0" cy="653.8" r="6.7"/><circle cx="710.5" cy="539.8" r="6.7"/><circle cx="711.2" cy="544.8" r="6.7"/><circle cx="710.5" cy="584.0" r="6.7"/><circle cx="711.2" cy="589.0" r="6.7"/><circle cx="710.5" cy="594.0" r="6.7"/><circle cx="726.8" cy="595.8" r="6.7"/><circle cx="727.5" cy="600.3" r="6.7"/><circle cx="726.8" cy="604.8" r="6.7"/><circle cx="727.5" cy="609.3" r="6.7"/><circle cx="726.8" cy="613.8" r="6.7"/><circle cx="727.5" cy="618.3" r="6.7"/><circle cx="726.8" cy="622.8" r="6.7"/><circle cx="727.5" cy="627.3" r="6.7"/><circle cx="726.8" cy="631.8" r="6.7"/><circle cx="726.8" cy="666.5" r="6.7"/><circle cx="727.5" cy="671.5" r="6.7"/><circle cx="743.1" cy="640.0" r="6.7"/><circle cx="743.8" cy="645.0" r="6.7"/><circle cx="759.3" cy="554.5" r="6.7"/><circle cx="760.0" cy="559.0" r="6.7"/><circle cx="759.3" cy="563.5" r="6.7"/><circle cx="759.3" cy="595.8" r="6.7"/><circle cx="760.0" cy="600.8" r="6.7"/><circle cx="759.3" cy="605.8" r="6.7"/><circle cx="775.6" cy="589.9" r="6.7"/><circle cx="776.2" cy="594.9" r="6.7"/><circle cx="775.6" cy="599.9" r="6.7"/><circle cx="808.1" cy="572.2" r="6.7"/><circle cx="808.8" cy="577.2" r="6.7"/><circle cx="808.1" cy="582.2" r="6.7"/><circle cx="905.5" cy="459.7" r="6.7"/><circle cx="906.2" cy="464.7" r="6.7"/><circle cx="905.5" cy="469.7" r="6.7"/><circle cx="906.2" cy="474.7" r="6.7"/><circle cx="905.5" cy="479.7" r="6.7"/><circle cx="906.2" cy="484.7" r="6.7"/><circle cx="905.5" cy="489.7" r="6.7"/><circle cx="906.2" cy="494.7" r="6.7"/><circle cx="905.5" cy="499.7" r="6.7"/><circle cx="906.2" cy="504.7" r="6.7"/><circle cx="905.5" cy="509.7" r="6.7"/><circle cx="938.1" cy="468.5" r="6.7"/><circle cx="938.8" cy="473.5" r="6.7"/><circle cx="938.1" cy="478.5" r="6.7"/><circle cx="938.8" cy="483.5" r="6.7"/><circle cx="938.1" cy="488.5" r="6.7"/><circle cx="938.8" cy="493.5" r="6.7"/><circle cx="938.1" cy="498.5" r="6.7"/><circle cx="938.8" cy="503.5" r="6.7"/><circle cx="938.1" cy="542.2" r="6.7"/><circle cx="938.8" cy="547.2" r="6.7"/><circle cx="938.1" cy="552.2" r="6.7"/><circle cx="938.8" cy="557.2" r="6.7"/><circle cx="938.1" cy="562.2" r="6.7"/><circle cx="954.3" cy="509.8" r="6.7"/><circle cx="955.0" cy="514.8" r="6.7"/><circle cx="954.3" cy="519.8" r="6.7"/><circle cx="955.0" cy="524.8" r="6.7"/><circle cx="954.3" cy="529.8" r="6.7"/><circle cx="955.0" cy="534.8" r="6.7"/><circle cx="970.6" cy="530.4" r="6.7"/><circle cx="971.3" cy="535.4" r="6.7"/><circle cx="970.6" cy="540.4" r="6.7"/><circle cx="986.8" cy="459.7" r="6.7"/><circle cx="987.5" cy="464.7" r="6.7"/><circle cx="986.8" cy="469.7" r="6.7"/><circle cx="987.5" cy="474.7" r="6.7"/><circle cx="986.8" cy="479.7" r="6.7"/><circle cx="987.5" cy="484.7" r="6.7"/><circle cx="986.8" cy="489.7" r="6.7"/><circle cx="987.5" cy="494.7" r="6.7"/><circle cx="986.8" cy="506.8" r="6.7"/><circle cx="987.5" cy="511.8" r="6.7"/><circle cx="1003.1" cy="430.2" r="6.7"/><circle cx="1003.8" cy="435.2" r="6.7"/><circle cx="1003.1" cy="440.2" r="6.7"/><circle cx="1003.8" cy="445.2" r="6.7"/><circle cx="1003.1" cy="450.2" r="6.7"/><circle cx="1003.8" cy="455.2" r="6.7"/><circle cx="1003.1" cy="487.7" r="6.7"/><circle cx="1003.8" cy="492.7" r="6.7"/><circle cx="1019.3" cy="447.9" r="6.7"/><circle cx="1020.0" cy="452.9" r="6.7"/><circle cx="1019.3" cy="457.9" r="6.7"/><circle cx="1068.1" cy="371.3" r="6.7"/><circle cx="1068.8" cy="376.3" r="6.7"/><circle cx="1068.1" cy="381.3" r="6.7"/><circle cx="1068.8" cy="386.3" r="6.7"/><circle cx="1068.1" cy="391.3" r="6.7"/><circle cx="1068.1" cy="440.5" r="6.7"/><circle cx="1068.8" cy="445.5" r="6.7"/><circle cx="1068.1" cy="450.5" r="6.7"/><circle cx="1100.5" cy="412.5" r="6.7"/><circle cx="1101.2" cy="417.5" r="6.7"/><circle cx="1100.5" cy="422.5" r="6.7"/><circle cx="1101.2" cy="427.5" r="6.7"/><circle cx="1116.8" cy="440.5" r="6.7"/><circle cx="1117.5" cy="445.5" r="6.7"/><circle cx="1116.8" cy="450.5" r="6.7"/><circle cx="1133.0" cy="384.5" r="6.7"/><circle cx="1133.8" cy="389.5" r="6.7"/><circle cx="1133.0" cy="394.5" r="6.7"/><circle cx="1165.6" cy="371.3" r="6.7"/><circle cx="1166.3" cy="376.3" r="6.7"/><circle cx="1165.6" cy="381.3" r="6.7"/><circle cx="1181.8" cy="416.9" r="6.7"/><circle cx="1182.5" cy="421.9" r="6.7"/><circle cx="1181.8" cy="426.9" r="6.7"/><circle cx="1198.0" cy="416.9" r="6.7"/><circle cx="1198.8" cy="421.9" r="6.7"/><circle cx="1214.3" cy="384.5" r="6.7"/><circle cx="1215.0" cy="389.5" r="6.7"/><circle cx="1214.3" cy="394.5" r="6.7"/><circle cx="1215.0" cy="399.5" r="6.7"/>
</g>
<g fill="none" stroke="#2a2a2a" stroke-width="3.2" id="ptsb">
<circle cx="548.3" cy="688.0" r="6.2" stroke-width="3.4"/><circle cx="548.3" cy="729.6" r="6.2" stroke-width="3.4"/><circle cx="564.6" cy="683.2" r="6.2" stroke-width="3.4"/><circle cx="597.1" cy="656.0" r="6.2" stroke-width="3.4"/><circle cx="597.1" cy="680.0" r="6.2" stroke-width="3.4"/><circle cx="597.1" cy="710.4" r="6.2" stroke-width="3.4"/><circle cx="629.6" cy="704.0" r="6.2" stroke-width="3.4"/><circle cx="645.9" cy="713.6" r="6.2" stroke-width="3.4"/><circle cx="662.1" cy="696.0" r="6.2" stroke-width="3.4"/><circle cx="662.1" cy="713.6" r="6.2" stroke-width="3.4"/><circle cx="694.6" cy="704.8" r="5.8" stroke-width="4.2"/><circle cx="532.1" cy="637.6" r="6.2" stroke-width="3.4"/><circle cx="564.6" cy="613.6" r="6.2" stroke-width="3.4"/><circle cx="597.1" cy="601.6" r="6.2" stroke-width="3.4"/><circle cx="597.1" cy="636.0" r="6.2" stroke-width="3.4"/><circle cx="629.6" cy="640.8" r="6.2" stroke-width="3.4"/><circle cx="645.9" cy="597.6" r="6.2" stroke-width="3.4"/><circle cx="645.9" cy="632.8" r="6.2" stroke-width="3.4"/><circle cx="662.1" cy="592.0" r="6.2" stroke-width="3.4"/><circle cx="694.6" cy="632.8" r="6.2" stroke-width="3.4"/><circle cx="710.8" cy="590.4" r="6.2" stroke-width="3.4"/><circle cx="727.1" cy="600.0" r="6.2" stroke-width="3.4"/><circle cx="727.1" cy="665.6" r="6.2" stroke-width="3.4"/><circle cx="743.4" cy="643.2" r="6.2" stroke-width="3.4"/><circle cx="759.6" cy="595.2" r="6.2" stroke-width="3.4"/><circle cx="775.9" cy="595.2" r="6.2" stroke-width="3.4"/><circle cx="824.6" cy="580.8" r="6.2" stroke-width="3.4"/><circle cx="710.8" cy="541.6" r="6.2" stroke-width="3.4"/><circle cx="743.4" cy="556.0" r="6.2" stroke-width="3.4"/><circle cx="759.6" cy="495.2" r="6.2" stroke-width="3.4"/><circle cx="759.6" cy="500.0" r="6.2" stroke-width="3.4"/><circle cx="759.6" cy="556.8" r="6.2" stroke-width="3.4"/><circle cx="759.6" cy="565.6" r="6.2" stroke-width="3.4"/><circle cx="775.9" cy="544.8" r="6.2" stroke-width="3.4"/><circle cx="792.1" cy="514.4" r="6.2" stroke-width="3.4"/><circle cx="824.6" cy="512.8" r="6.2" stroke-width="3.4"/><circle cx="873.3" cy="466.4" r="6.2" stroke-width="3.4"/><circle cx="889.6" cy="429.6" r="6.2" stroke-width="3.4"/><circle cx="889.6" cy="488.8" r="6.2" stroke-width="3.4"/><circle cx="889.6" cy="522.4" r="6.2" stroke-width="3.4"/><circle cx="889.6" cy="550.4" r="6.2" stroke-width="3.4"/><circle cx="905.8" cy="506.4" r="6.2" stroke-width="3.4"/><circle cx="889.6" cy="377.2" r="6.2" stroke-width="3.4"/><circle cx="954.6" cy="510.8" r="6.2" stroke-width="3.4"/><circle cx="954.6" cy="536.4" r="6.2" stroke-width="3.4"/><circle cx="970.9" cy="534.8" r="6.2" stroke-width="3.4"/><circle cx="970.9" cy="566.8" r="6.2" stroke-width="3.4"/><circle cx="987.1" cy="488.4" r="6.2" stroke-width="3.4"/><circle cx="987.1" cy="510.8" r="6.2" stroke-width="3.4"/><circle cx="1003.4" cy="494.8" r="6.2" stroke-width="3.4"/><circle cx="1003.4" cy="533.2" r="6.2" stroke-width="3.4"/><circle cx="1035.8" cy="480.4" r="6.2" stroke-width="3.4"/><circle cx="1100.8" cy="487.6" r="6.2" stroke-width="3.4"/><circle cx="1149.6" cy="483.6" r="6.2" stroke-width="3.4"/><circle cx="1165.9" cy="469.2" r="6.2" stroke-width="3.4"/><circle cx="970.9" cy="440.4" r="6.2" stroke-width="3.4"/><circle cx="1035.8" cy="428.4" r="6.2" stroke-width="3.4"/><circle cx="1084.6" cy="322.8" r="6.2" stroke-width="3.4"/><circle cx="1117.1" cy="422.0" r="6.2" stroke-width="3.4"/><circle cx="1117.1" cy="447.6" r="6.2" stroke-width="3.4"/><circle cx="1133.3" cy="385.2" r="6.2" stroke-width="3.4"/><circle cx="1182.1" cy="370.8" r="6.2" stroke-width="3.4"/><circle cx="1149.6" cy="285.2" r="6.2" stroke-width="3.4"/><circle cx="1230.9" cy="270.0" r="6.2" stroke-width="3.4"/><circle cx="1263.3" cy="270.0" r="6.2" stroke-width="3.4"/><circle cx="1263.3" cy="282.8" r="6.2" stroke-width="3.4"/><circle cx="1279.6" cy="258.8" r="6.2" stroke-width="3.4"/><circle cx="1295.8" cy="280.4" r="6.2" stroke-width="3.4"/><circle cx="1312.1" cy="214.0" r="5.8" stroke-width="4.2"/><circle cx="1198.3" cy="360.4" r="6.2" stroke-width="3.4"/><circle cx="1198.3" cy="403.6" r="6.2" stroke-width="3.4"/><circle cx="1198.3" cy="421.2" r="6.2" stroke-width="3.4"/><circle cx="1214.6" cy="323.6" r="6.2" stroke-width="3.4"/><circle cx="1214.6" cy="387.6" r="6.2" stroke-width="3.4"/><circle cx="1230.9" cy="315.6" r="6.2" stroke-width="3.4"/><circle cx="1230.9" cy="331.6" r="6.2" stroke-width="3.4"/><circle cx="1247.1" cy="296.4" r="6.2" stroke-width="3.4"/><circle cx="1247.1" cy="312.4" r="6.2" stroke-width="3.4"/><circle cx="1247.1" cy="360.4" r="6.2" stroke-width="3.4"/>
</g>
<g fill="none" stroke="#231f20" stroke-width="3" id="frame">
<rect x="314.6" y="1" width="1082.9" height="807.3"/>
</g>
<circle cx="1308.2" cy="709.4" r="1.5" fill="#777"/>
<g fill="none" stroke="#231f20" stroke-width="2.6" id="ticks">
<line x1="368.4" y1="795.2" x2="368.4" y2="808.3"/><line x1="531.1" y1="795.2" x2="531.1" y2="808.3"/><line x1="693.8" y1="795.2" x2="693.8" y2="808.3"/><line x1="856.5" y1="795.2" x2="856.5" y2="808.3"/><line x1="1019.2" y1="795.2" x2="1019.2" y2="808.3"/><line x1="1181.9" y1="795.2" x2="1181.9" y2="808.3"/><line x1="1344.6" y1="795.2" x2="1344.6" y2="808.3"/><line x1="315" y1="624.0" x2="328.6" y2="624.0"/><line x1="315" y1="333.0" x2="328.6" y2="333.0"/><line x1="315" y1="42.0" x2="328.6" y2="42.0"/>
</g>
<g class="num"><text x="367.8" y="867.3" text-anchor="middle">4</text><text x="530.5" y="867.3" text-anchor="middle">5</text><text x="693.2" y="867.3" text-anchor="middle">6</text><text x="855.9" y="867.3" text-anchor="middle">7</text><text x="1018.6" y="867.3" text-anchor="middle">8</text><text x="1181.3" y="867.3" text-anchor="middle">9</text><text x="1344.0" y="867.3" text-anchor="middle">10</text><text x="293.5" y="638.2" text-anchor="end">1</text><text x="293.5" y="347.2" text-anchor="end">2</text><text x="293.5" y="56.2" text-anchor="end">3</text></g>
<text class="zh" x="723.2" y="932.3" letter-spacing="1">双顶径</text>
<text class="la" x="889.5" y="932.3">(cm)</text>
<text class="zh" transform="translate(238,600.4) rotate(-90)" letter-spacing="2.4">甲状腺面积</text>
<text class="la" transform="translate(238,326.5) rotate(-90)">(cm<tspan font-size="30" dy="-18.5" dx="-0.5">2</tspan><tspan dy="18.5" dx="-1.5">)</tspan></text>
</svg>
</body>
</html>
